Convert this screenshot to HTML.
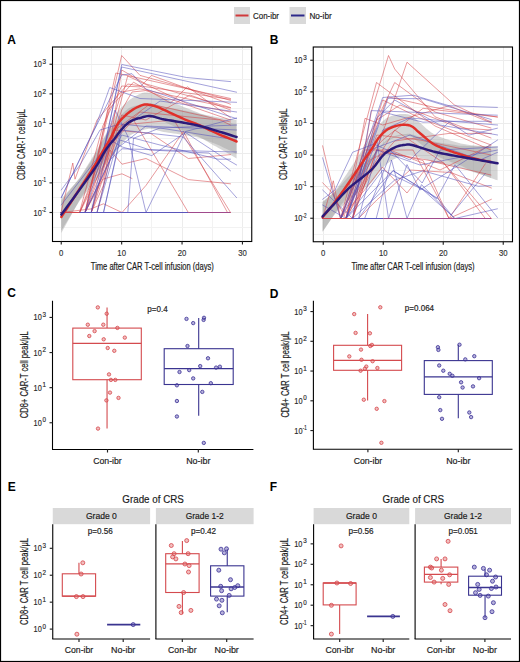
<!DOCTYPE html>
<html><head><meta charset="utf-8"><style>
html,body{margin:0;padding:0;background:#fff;overflow:hidden;width:520px;height:662px;}
svg{display:block;font-family:"Liberation Sans", sans-serif;}
</style></head><body>
<svg width="520" height="662" viewBox="0 0 520 662">
<rect width="520" height="662" fill="#fff"/>
<rect x="0.50" y="0.50" width="519.00" height="661.00" fill="none" stroke="#000" stroke-width="1.2" />
<rect x="234.00" y="7.00" width="16.00" height="17.00" fill="#d9d9d9" stroke="none" stroke-width="1" />
<line x1="235.50" y1="15.50" x2="248.50" y2="15.50" stroke="#d0393b" stroke-width="2.0" />
<text x="253.00" y="18.60" font-size="9.2" text-anchor="start" font-weight="normal" fill="#222" stroke="#222" stroke-width="0.18" textLength="26.00" lengthAdjust="spacingAndGlyphs" >Con-ibr</text>
<rect x="289.50" y="7.00" width="16.50" height="17.00" fill="#d9d9d9" stroke="none" stroke-width="1" />
<line x1="291.00" y1="15.50" x2="304.50" y2="15.50" stroke="#2e2a8a" stroke-width="2.0" />
<text x="309.40" y="18.60" font-size="9.2" text-anchor="start" font-weight="normal" fill="#222" stroke="#222" stroke-width="0.18" textLength="22.30" lengthAdjust="spacingAndGlyphs" >No-ibr</text>
<text x="7.20" y="43.80" font-size="12" text-anchor="start" font-weight="bold" fill="#000" >A</text>
<text x="269.70" y="43.80" font-size="12" text-anchor="start" font-weight="bold" fill="#000" >B</text>
<text x="7.20" y="297.30" font-size="12" text-anchor="start" font-weight="bold" fill="#000" >C</text>
<text x="269.70" y="297.60" font-size="12" text-anchor="start" font-weight="bold" fill="#000" >D</text>
<text x="7.70" y="490.70" font-size="12" text-anchor="start" font-weight="bold" fill="#000" >E</text>
<text x="269.70" y="490.70" font-size="12" text-anchor="start" font-weight="bold" fill="#000" >F</text>
<rect x="52.50" y="47.00" width="199.25" height="194.50" fill="#fff" stroke="none" stroke-width="1" />
<line x1="61.50" y1="47.00" x2="61.50" y2="241.50" stroke="#ececec" stroke-width="1.0" />
<line x1="91.50" y1="47.00" x2="91.50" y2="241.50" stroke="#f2f2f2" stroke-width="1.0" />
<line x1="121.50" y1="47.00" x2="121.50" y2="241.50" stroke="#ececec" stroke-width="1.0" />
<line x1="151.50" y1="47.00" x2="151.50" y2="241.50" stroke="#f2f2f2" stroke-width="1.0" />
<line x1="182.50" y1="47.00" x2="182.50" y2="241.50" stroke="#ececec" stroke-width="1.0" />
<line x1="212.50" y1="47.00" x2="212.50" y2="241.50" stroke="#f2f2f2" stroke-width="1.0" />
<line x1="242.50" y1="47.00" x2="242.50" y2="241.50" stroke="#ececec" stroke-width="1.0" />
<line x1="52.50" y1="227.50" x2="251.75" y2="227.50" stroke="#f2f2f2" stroke-width="1.0" />
<line x1="52.50" y1="212.50" x2="251.75" y2="212.50" stroke="#ececec" stroke-width="1.0" />
<line x1="52.50" y1="197.50" x2="251.75" y2="197.50" stroke="#f2f2f2" stroke-width="1.0" />
<line x1="52.50" y1="182.50" x2="251.75" y2="182.50" stroke="#ececec" stroke-width="1.0" />
<line x1="52.50" y1="168.50" x2="251.75" y2="168.50" stroke="#f2f2f2" stroke-width="1.0" />
<line x1="52.50" y1="153.50" x2="251.75" y2="153.50" stroke="#ececec" stroke-width="1.0" />
<line x1="52.50" y1="138.50" x2="251.75" y2="138.50" stroke="#f2f2f2" stroke-width="1.0" />
<line x1="52.50" y1="123.50" x2="251.75" y2="123.50" stroke="#ececec" stroke-width="1.0" />
<line x1="52.50" y1="108.50" x2="251.75" y2="108.50" stroke="#f2f2f2" stroke-width="1.0" />
<line x1="52.50" y1="93.50" x2="251.75" y2="93.50" stroke="#ececec" stroke-width="1.0" />
<line x1="52.50" y1="79.50" x2="251.75" y2="79.50" stroke="#f2f2f2" stroke-width="1.0" />
<line x1="52.50" y1="64.50" x2="251.75" y2="64.50" stroke="#ececec" stroke-width="1.0" />
<line x1="52.50" y1="49.50" x2="251.75" y2="49.50" stroke="#f2f2f2" stroke-width="1.0" />
<rect x="313.25" y="47.00" width="199.25" height="194.75" fill="#fff" stroke="none" stroke-width="1" />
<line x1="323.50" y1="47.00" x2="323.50" y2="241.75" stroke="#ececec" stroke-width="1.0" />
<line x1="353.50" y1="47.00" x2="353.50" y2="241.75" stroke="#f2f2f2" stroke-width="1.0" />
<line x1="383.50" y1="47.00" x2="383.50" y2="241.75" stroke="#ececec" stroke-width="1.0" />
<line x1="413.50" y1="47.00" x2="413.50" y2="241.75" stroke="#f2f2f2" stroke-width="1.0" />
<line x1="443.50" y1="47.00" x2="443.50" y2="241.75" stroke="#ececec" stroke-width="1.0" />
<line x1="473.50" y1="47.00" x2="473.50" y2="241.75" stroke="#f2f2f2" stroke-width="1.0" />
<line x1="503.50" y1="47.00" x2="503.50" y2="241.75" stroke="#ececec" stroke-width="1.0" />
<line x1="313.25" y1="234.50" x2="512.50" y2="234.50" stroke="#f2f2f2" stroke-width="1.0" />
<line x1="313.25" y1="218.50" x2="512.50" y2="218.50" stroke="#ececec" stroke-width="1.0" />
<line x1="313.25" y1="202.50" x2="512.50" y2="202.50" stroke="#f2f2f2" stroke-width="1.0" />
<line x1="313.25" y1="186.50" x2="512.50" y2="186.50" stroke="#ececec" stroke-width="1.0" />
<line x1="313.25" y1="170.50" x2="512.50" y2="170.50" stroke="#f2f2f2" stroke-width="1.0" />
<line x1="313.25" y1="155.50" x2="512.50" y2="155.50" stroke="#ececec" stroke-width="1.0" />
<line x1="313.25" y1="139.50" x2="512.50" y2="139.50" stroke="#f2f2f2" stroke-width="1.0" />
<line x1="313.25" y1="123.50" x2="512.50" y2="123.50" stroke="#ececec" stroke-width="1.0" />
<line x1="313.25" y1="107.50" x2="512.50" y2="107.50" stroke="#f2f2f2" stroke-width="1.0" />
<line x1="313.25" y1="91.50" x2="512.50" y2="91.50" stroke="#ececec" stroke-width="1.0" />
<line x1="313.25" y1="76.50" x2="512.50" y2="76.50" stroke="#f2f2f2" stroke-width="1.0" />
<line x1="313.25" y1="60.50" x2="512.50" y2="60.50" stroke="#ececec" stroke-width="1.0" />
<clipPath id="clipA"><rect x="52.5" y="47" width="199.25" height="194.5"/></clipPath>
<g clip-path="url(#clipA)">
<polygon points="61.30,201.03 62.33,199.73 63.66,198.05 65.24,196.06 67.01,193.81 68.93,191.39 70.94,188.85 72.98,186.25 75.00,183.67 77.11,180.97 79.41,178.04 81.83,174.38 84.30,170.45 86.74,166.54 89.09,162.77 91.26,159.23 93.20,156.04 94.90,153.18 96.44,150.53 97.84,148.07 99.12,145.77 100.33,143.61 101.47,141.59 102.59,139.63 103.70,137.70 104.78,135.86 105.79,134.15 106.75,132.55 107.66,131.02 108.53,129.53 109.39,128.05 110.24,126.55 111.10,125.00 111.94,123.38 112.75,121.72 113.53,120.05 114.30,118.38 115.07,116.75 115.85,115.17 116.66,113.68 117.50,112.30 118.38,111.03 119.28,109.84 120.20,108.73 121.14,107.68 122.08,106.68 123.03,105.72 123.97,104.80 124.90,103.90 125.82,103.03 126.74,102.20 127.66,101.42 128.58,100.68 129.50,99.96 130.43,99.28 131.36,98.63 132.30,98.00 133.26,97.39 134.24,96.81 135.23,96.25 136.23,95.72 137.21,95.23 138.17,94.78 139.11,94.37 140.00,94.00 140.82,93.67 141.55,93.36 142.23,93.09 142.91,92.86 143.60,92.67 144.36,92.55 145.22,92.49 146.20,92.50 147.31,92.58 148.52,92.72 149.80,92.92 151.15,93.18 152.56,93.50 154.01,93.88 155.49,94.31 157.00,94.80 158.55,95.37 160.17,96.04 161.83,96.77 163.54,97.56 165.26,98.37 166.99,99.20 168.71,100.02 170.40,100.80 172.06,101.56 173.68,102.33 175.30,103.10 176.93,103.88 178.57,104.65 180.25,105.43 181.99,106.21 183.80,107.00 185.69,107.78 187.66,108.56 189.68,109.33 191.74,110.11 193.82,110.90 195.90,111.71 197.97,112.54 200.00,113.40 201.98,114.09 203.91,114.80 205.81,115.54 207.73,116.30 209.67,117.06 211.68,117.84 213.78,118.62 216.00,119.40 218.50,120.23 221.31,121.02 224.29,121.71 227.30,122.40 230.18,123.04 232.79,123.63 234.98,124.11 236.60,124.50 236.60,158.50 234.98,157.56 232.79,156.28 230.18,154.75 227.30,153.05 224.29,151.28 221.31,149.50 218.50,147.93 216.00,146.60 213.78,145.38 211.68,144.18 209.67,143.00 207.73,141.84 205.81,140.70 203.91,139.59 201.98,138.48 200.00,137.40 197.97,136.54 195.90,135.71 193.82,134.90 191.74,134.11 189.68,133.33 187.66,132.56 185.69,131.78 183.80,131.00 181.99,130.21 180.25,129.43 178.57,128.65 176.93,127.88 175.30,127.10 173.68,126.33 172.06,125.56 170.40,124.80 168.71,124.02 166.99,123.20 165.26,122.37 163.54,121.56 161.83,120.77 160.17,120.04 158.55,119.37 157.00,118.80 155.49,118.31 154.01,117.88 152.56,117.50 151.15,117.18 149.80,116.92 148.52,116.72 147.31,116.58 146.20,116.50 145.22,116.49 144.36,116.55 143.60,116.67 142.91,116.86 142.23,117.09 141.55,117.36 140.82,117.67 140.00,118.00 139.11,118.37 138.17,118.78 137.21,119.23 136.23,119.72 135.23,120.25 134.24,120.81 133.26,121.39 132.30,122.00 131.36,122.63 130.43,123.28 129.50,123.96 128.58,124.68 127.66,125.42 126.74,126.20 125.82,127.03 124.90,127.90 123.97,128.80 123.03,129.72 122.08,130.68 121.14,131.68 120.20,132.73 119.28,133.84 118.38,135.03 117.50,136.30 116.66,137.68 115.85,139.17 115.07,140.75 114.30,142.38 113.53,144.05 112.75,145.72 111.94,147.38 111.10,149.00 110.24,150.55 109.39,152.05 108.53,153.53 107.66,155.02 106.75,156.55 105.79,158.15 104.78,159.86 103.70,161.70 102.59,163.63 101.47,165.59 100.33,167.61 99.12,169.68 97.84,171.85 96.44,174.17 94.90,176.67 93.20,179.36 91.26,182.36 89.09,185.68 86.74,189.22 84.30,192.88 81.83,196.56 79.41,200.35 77.11,204.51 75.00,208.33 72.98,211.99 70.94,215.67 68.93,219.28 67.01,222.72 65.24,225.91 63.66,228.74 62.33,231.13 61.30,232.97" fill="rgba(153,153,153,0.4)" stroke="none"/>
<polygon points="61.30,198.63 62.31,197.53 63.61,196.13 65.14,194.46 66.88,192.58 68.78,190.52 70.79,188.32 72.88,186.02 75.00,183.67 77.29,181.13 79.84,178.32 82.56,174.26 85.34,170.01 88.11,165.77 90.75,161.67 93.18,157.83 95.30,154.41 97.10,151.34 98.68,148.50 100.08,145.87 101.34,143.53 102.51,141.34 103.63,139.26 104.75,137.29 105.90,135.41 107.07,133.64 108.20,132.05 109.30,130.59 110.36,129.24 111.39,127.96 112.39,126.73 113.36,125.51 114.30,124.28 115.19,123.07 116.02,121.90 116.81,120.77 117.57,119.67 118.32,118.60 119.08,117.55 119.87,116.51 120.70,115.57 121.58,114.64 122.48,113.71 123.41,112.78 124.35,111.87 125.29,111.00 126.22,110.19 127.12,109.45 128.00,108.80 128.85,108.25 129.68,107.79 130.50,107.40 131.31,107.06 132.10,106.77 132.88,106.52 133.64,106.28 134.40,106.04 135.11,105.83 135.75,105.66 136.36,105.52 136.96,105.41 137.60,105.31 138.30,105.22 139.09,105.12 140.00,105.00 141.03,104.75 142.15,104.44 143.35,104.10 144.61,103.77 145.94,103.48 147.32,103.26 148.74,103.14 150.20,103.17 151.68,103.35 153.17,103.67 154.69,104.09 156.27,104.58 157.94,105.12 159.70,105.67 161.58,106.21 163.60,106.69 165.83,107.15 168.27,107.62 170.85,108.09 173.52,108.56 176.22,109.03 178.87,109.50 181.42,109.97 183.80,110.43 185.99,110.87 188.04,111.27 190.00,111.67 191.91,112.07 193.82,112.48 195.78,112.93 197.82,113.43 200.00,114.00 202.34,114.38 204.81,114.81 207.37,115.28 209.98,115.78 212.58,116.30 215.15,116.82 217.64,117.32 220.00,117.80 222.35,118.09 224.78,118.40 227.20,118.71 229.55,119.03 231.74,119.32 233.70,119.59 235.34,119.81 236.60,120.00 236.60,154.00 235.34,153.39 233.70,152.57 231.74,151.59 229.55,150.50 227.20,149.33 224.78,148.13 222.35,146.94 220.00,145.80 217.64,144.85 215.15,143.85 212.58,142.82 209.98,141.78 207.37,140.76 204.81,139.77 202.34,138.84 200.00,138.00 197.82,137.50 195.78,137.07 193.82,136.69 191.91,136.33 190.00,136.00 188.04,135.67 185.99,135.33 183.80,134.97 181.42,134.59 178.87,134.21 176.22,133.82 173.52,133.44 170.85,133.06 168.27,132.67 165.83,132.29 163.60,131.91 161.58,131.49 159.70,131.02 157.94,130.52 156.27,130.04 154.69,129.60 153.17,129.23 151.68,128.96 150.20,128.83 148.74,128.85 147.32,129.01 145.94,129.28 144.61,129.62 143.35,129.99 142.15,130.37 141.03,130.72 140.00,131.00 139.09,131.30 138.30,131.56 137.60,131.79 136.96,132.02 136.36,132.25 135.75,132.51 135.11,132.81 134.40,133.16 133.64,133.55 132.88,133.94 132.10,134.35 131.31,134.80 130.50,135.30 129.68,135.85 128.85,136.48 128.00,137.20 127.12,138.02 126.22,138.94 125.29,139.94 124.35,141.00 123.41,142.09 122.48,143.21 121.58,144.33 120.70,145.43 119.87,146.49 119.08,147.46 118.32,148.43 117.57,149.43 116.81,150.45 116.02,151.50 115.19,152.58 114.30,153.72 113.36,154.85 112.39,155.97 111.39,157.10 110.36,158.27 109.30,159.52 108.20,160.87 107.07,162.35 105.90,163.99 104.75,165.77 103.63,167.63 102.51,169.59 101.34,171.67 100.08,173.88 98.68,176.11 97.10,178.47 95.30,180.99 93.18,183.79 90.75,186.89 88.11,190.20 85.34,193.61 82.56,197.03 79.84,200.41 77.29,204.58 75.00,208.33 72.88,211.81 70.79,215.22 68.78,218.49 66.88,221.56 65.14,224.36 63.61,226.84 62.31,228.94 61.30,230.57" fill="rgba(153,153,153,0.4)" stroke="none"/>
<polyline points="61.25,212.50 85.40,212.50 121.70,55.50 140.00,75.40 230.50,100.40" fill="none" stroke="rgba(210,60,65,0.55)" stroke-width="0.95" stroke-linejoin="round" stroke-linecap="round" stroke-linecap="butt"/>
<polyline points="61.25,212.50 79.50,212.50 102.80,126.00 121.70,86.00 140.00,86.90 151.50,75.40 230.50,104.20" fill="none" stroke="rgba(210,60,65,0.55)" stroke-width="0.95" stroke-linejoin="round" stroke-linecap="round" stroke-linecap="butt"/>
<polyline points="61.25,212.50 91.20,212.50 103.50,185.00 121.70,70.00 146.00,84.00 230.50,107.50" fill="none" stroke="rgba(210,60,65,0.55)" stroke-width="0.95" stroke-linejoin="round" stroke-linecap="round" stroke-linecap="butt"/>
<polyline points="61.25,212.50 91.20,212.50 127.70,76.00 188.00,104.00 230.50,112.00" fill="none" stroke="rgba(210,60,65,0.55)" stroke-width="0.95" stroke-linejoin="round" stroke-linecap="round" stroke-linecap="butt"/>
<polyline points="61.25,212.50 85.00,212.50 108.00,110.00 133.50,82.20 170.50,103.00 187.40,86.80 230.50,117.70" fill="none" stroke="rgba(210,60,65,0.55)" stroke-width="0.95" stroke-linejoin="round" stroke-linecap="round" stroke-linecap="butt"/>
<polyline points="61.25,212.50 79.70,212.50 103.50,150.00 121.70,92.00 140.00,88.80 230.50,108.00" fill="none" stroke="rgba(210,60,65,0.55)" stroke-width="0.95" stroke-linejoin="round" stroke-linecap="round" stroke-linecap="butt"/>
<polyline points="61.25,212.50 85.00,212.50 103.50,175.00 121.70,115.00 146.00,120.00 190.00,95.00 230.50,110.00" fill="none" stroke="rgba(210,60,65,0.55)" stroke-width="0.95" stroke-linejoin="round" stroke-linecap="round" stroke-linecap="butt"/>
<polyline points="61.25,211.50 72.80,163.00 75.00,179.20 97.00,120.00 127.70,84.00 230.50,99.40" fill="none" stroke="rgba(210,60,65,0.55)" stroke-width="0.95" stroke-linejoin="round" stroke-linecap="round" stroke-linecap="butt"/>
<polyline points="61.25,212.50 85.00,212.50 115.80,73.00 140.00,78.30 230.50,98.50" fill="none" stroke="rgba(210,60,65,0.55)" stroke-width="0.95" stroke-linejoin="round" stroke-linecap="round" stroke-linecap="butt"/>
<polyline points="61.25,212.50 79.70,212.50 103.50,165.00 121.70,110.00 132.00,92.00 145.80,90.60 230.50,120.00" fill="none" stroke="rgba(210,60,65,0.55)" stroke-width="0.95" stroke-linejoin="round" stroke-linecap="round" stroke-linecap="butt"/>
<polyline points="61.25,212.50 85.00,212.50 110.00,150.00 122.00,164.20 146.00,158.50 188.30,179.60 230.50,183.80" fill="none" stroke="rgba(210,60,65,0.55)" stroke-width="0.95" stroke-linejoin="round" stroke-linecap="round" stroke-linecap="butt"/>
<polyline points="61.25,212.50 90.50,209.00 103.50,203.80 122.00,212.50 146.00,185.40 183.50,131.50 227.50,212.50" fill="none" stroke="rgba(210,60,65,0.55)" stroke-width="0.95" stroke-linejoin="round" stroke-linecap="round" stroke-linecap="butt"/>
<polyline points="61.25,212.50 85.00,212.50 102.80,179.20 122.00,173.80 132.00,178.50" fill="none" stroke="rgba(210,60,65,0.55)" stroke-width="0.95" stroke-linejoin="round" stroke-linecap="round" stroke-linecap="butt"/>
<polyline points="61.25,212.50 97.00,212.50 115.00,140.00 133.50,120.00 188.30,212.50 230.50,212.50" fill="none" stroke="rgba(210,60,65,0.55)" stroke-width="0.95" stroke-linejoin="round" stroke-linecap="round" stroke-linecap="butt"/>
<polyline points="61.25,212.50 79.70,212.50 115.00,130.00 150.80,133.50 188.30,158.50 230.50,154.60" fill="none" stroke="rgba(210,60,65,0.55)" stroke-width="0.95" stroke-linejoin="round" stroke-linecap="round" stroke-linecap="butt"/>
<polyline points="61.25,212.50 91.20,212.50 121.70,125.00 173.90,120.00 230.50,212.50" fill="none" stroke="rgba(210,60,65,0.55)" stroke-width="0.95" stroke-linejoin="round" stroke-linecap="round" stroke-linecap="butt"/>
<polyline points="61.25,212.50 85.00,212.50 110.00,140.00 140.00,112.00 220.00,120.00 230.50,125.00" fill="none" stroke="rgba(210,60,65,0.55)" stroke-width="0.95" stroke-linejoin="round" stroke-linecap="round" stroke-linecap="butt"/>
<polyline points="61.25,212.50 91.20,212.50 115.00,130.00 150.00,104.00 230.50,122.00" fill="none" stroke="rgba(210,60,65,0.55)" stroke-width="0.95" stroke-linejoin="round" stroke-linecap="round" stroke-linecap="butt"/>
<polyline points="61.25,212.50 91.20,212.50 121.70,64.50 186.60,77.50 230.50,81.60" fill="none" stroke="rgba(80,75,185,0.55)" stroke-width="0.95" stroke-linejoin="round" stroke-linecap="round" stroke-linecap="butt"/>
<polyline points="61.25,205.00 103.50,150.00 121.70,67.00 236.60,92.20" fill="none" stroke="rgba(80,75,185,0.55)" stroke-width="0.95" stroke-linejoin="round" stroke-linecap="round" stroke-linecap="butt"/>
<polyline points="61.25,197.70 95.80,126.00 109.70,87.50 140.00,98.50 236.60,102.30" fill="none" stroke="rgba(80,75,185,0.55)" stroke-width="0.95" stroke-linejoin="round" stroke-linecap="round" stroke-linecap="butt"/>
<polyline points="61.25,197.70 84.30,150.00 121.70,75.00 132.00,73.70 145.80,89.00 236.60,118.70" fill="none" stroke="rgba(80,75,185,0.55)" stroke-width="0.95" stroke-linejoin="round" stroke-linecap="round" stroke-linecap="butt"/>
<polyline points="61.25,212.50 91.20,212.50 110.00,140.00 122.00,146.90 151.80,155.60 185.50,132.50 222.00,156.50 236.60,165.00" fill="none" stroke="rgba(80,75,185,0.55)" stroke-width="0.95" stroke-linejoin="round" stroke-linecap="round" stroke-linecap="butt"/>
<polyline points="61.25,212.50 85.00,212.50 115.00,110.00 127.80,136.30 146.00,212.50 185.50,131.50 236.60,118.00" fill="none" stroke="rgba(80,75,185,0.55)" stroke-width="0.95" stroke-linejoin="round" stroke-linecap="round" stroke-linecap="butt"/>
<polyline points="61.25,212.50 103.50,212.50 127.80,212.50 133.50,138.30 160.00,128.00 236.60,125.00" fill="none" stroke="rgba(80,75,185,0.55)" stroke-width="0.95" stroke-linejoin="round" stroke-linecap="round" stroke-linecap="butt"/>
<polyline points="61.25,212.50 97.00,212.50 110.00,160.00 122.00,148.80 222.00,151.70 236.60,152.00" fill="none" stroke="rgba(80,75,185,0.55)" stroke-width="0.95" stroke-linejoin="round" stroke-linecap="round" stroke-linecap="butt"/>
<polyline points="61.25,212.50 91.20,212.50 103.50,212.50 121.70,130.00 183.00,137.00 236.60,197.70" fill="none" stroke="rgba(80,75,185,0.55)" stroke-width="0.95" stroke-linejoin="round" stroke-linecap="round" stroke-linecap="butt"/>
<polyline points="61.25,212.50 79.70,212.50 103.50,212.50 120.00,140.00 150.00,150.00 209.00,153.00 230.50,170.80" fill="none" stroke="rgba(80,75,185,0.55)" stroke-width="0.95" stroke-linejoin="round" stroke-linecap="round" stroke-linecap="butt"/>
<polyline points="61.25,212.50 85.00,212.50 121.70,135.00 160.00,145.00 218.00,159.20 230.50,159.20" fill="none" stroke="rgba(80,75,185,0.55)" stroke-width="0.95" stroke-linejoin="round" stroke-linecap="round" stroke-linecap="butt"/>
<polyline points="61.25,190.00 80.00,165.00 100.00,130.00 120.00,124.00 160.00,128.00 236.60,140.00" fill="none" stroke="rgba(80,75,185,0.55)" stroke-width="0.95" stroke-linejoin="round" stroke-linecap="round" stroke-linecap="butt"/>
<polyline points="61.25,212.50 188.20,212.50" fill="none" stroke="rgba(80,75,185,0.55)" stroke-width="0.95" stroke-linejoin="round" stroke-linecap="round" stroke-linecap="butt"/>
<polyline points="61.25,212.50 97.00,212.50 121.70,128.00 160.00,101.00 236.60,112.00" fill="none" stroke="rgba(80,75,185,0.55)" stroke-width="0.95" stroke-linejoin="round" stroke-linecap="round" stroke-linecap="butt"/>
<polyline points="61.25,212.50 85.00,212.50 115.00,150.00 146.00,126.00 236.60,130.00" fill="none" stroke="rgba(80,75,185,0.55)" stroke-width="0.95" stroke-linejoin="round" stroke-linecap="round" stroke-linecap="butt"/>
<line x1="61.25" y1="212.50" x2="79.70" y2="212.50" stroke="#d4464b" stroke-width="1.0" />
<line x1="79.70" y1="212.50" x2="188.20" y2="212.50" stroke="#5a55bb" stroke-width="1.0" />
<line x1="188.20" y1="212.50" x2="230.50" y2="212.50" stroke="#a04a8c" stroke-width="1.0" />
<polyline points="61.30,217.00 62.33,215.43 63.66,213.40 65.24,210.98 67.01,208.27 68.93,205.33 70.94,202.26 72.98,199.12 75.00,196.00 77.11,192.74 79.41,189.20 81.83,185.47 84.30,181.66 86.74,177.88 89.09,174.22 91.26,170.79 93.20,167.70 94.90,164.92 96.44,162.35 97.84,159.96 99.12,157.72 100.33,155.61 101.47,153.59 102.59,151.63 103.70,149.70 104.78,147.86 105.79,146.15 106.75,144.55 107.66,143.02 108.53,141.53 109.39,140.05 110.24,138.55 111.10,137.00 111.94,135.38 112.75,133.72 113.53,132.05 114.30,130.38 115.07,128.75 115.85,127.17 116.66,125.68 117.50,124.30 118.38,123.03 119.28,121.84 120.20,120.73 121.14,119.68 122.08,118.68 123.03,117.72 123.97,116.80 124.90,115.90 125.82,115.03 126.74,114.20 127.66,113.42 128.58,112.68 129.50,111.96 130.43,111.28 131.36,110.63 132.30,110.00 133.26,109.39 134.24,108.81 135.23,108.25 136.23,107.72 137.21,107.23 138.17,106.78 139.11,106.37 140.00,106.00 140.82,105.67 141.55,105.36 142.23,105.09 142.91,104.86 143.60,104.67 144.36,104.55 145.22,104.49 146.20,104.50 147.31,104.58 148.52,104.72 149.80,104.92 151.15,105.18 152.56,105.50 154.01,105.88 155.49,106.31 157.00,106.80 158.55,107.37 160.17,108.04 161.83,108.77 163.54,109.56 165.26,110.37 166.99,111.20 168.71,112.02 170.40,112.80 172.06,113.56 173.68,114.33 175.30,115.10 176.93,115.88 178.57,116.65 180.25,117.43 181.99,118.21 183.80,119.00 185.69,119.78 187.66,120.56 189.68,121.33 191.74,122.11 193.82,122.90 195.90,123.71 197.97,124.54 200.00,125.40 201.98,126.29 203.91,127.19 205.81,128.12 207.73,129.07 209.67,130.03 211.68,131.01 213.78,132.00 216.00,133.00 218.50,134.08 221.31,135.26 224.29,136.50 227.30,137.72 230.18,138.90 232.79,139.95 234.98,140.84 236.60,141.50" fill="none" stroke="#e0302a" stroke-width="2.45" stroke-linejoin="round" stroke-linecap="round" stroke-linecap="butt"/>
<polyline points="61.30,214.60 62.31,213.23 63.61,211.49 65.14,209.41 66.88,207.07 68.78,204.50 70.79,201.77 72.88,198.92 75.00,196.00 77.29,192.86 79.84,189.37 82.56,185.65 85.34,181.81 88.11,177.98 90.75,174.28 93.18,170.81 95.30,167.70 97.10,164.91 98.68,162.30 100.08,159.87 101.34,157.60 102.51,155.46 103.63,153.45 104.75,151.53 105.90,149.70 107.07,148.00 108.20,146.46 109.30,145.06 110.36,143.76 111.39,142.53 112.39,141.35 113.36,140.18 114.30,139.00 115.19,137.83 116.02,136.70 116.81,135.61 117.57,134.55 118.32,133.52 119.08,132.50 119.87,131.50 120.70,130.50 121.58,129.49 122.48,128.46 123.41,127.43 124.35,126.43 125.29,125.47 126.22,124.56 127.12,123.73 128.00,123.00 128.85,122.37 129.68,121.82 130.50,121.35 131.31,120.93 132.10,120.56 132.88,120.23 133.64,119.91 134.40,119.60 135.11,119.32 135.75,119.08 136.36,118.89 136.96,118.71 137.60,118.55 138.30,118.39 139.09,118.21 140.00,118.00 141.03,117.73 142.15,117.40 143.35,117.05 144.61,116.69 145.94,116.38 147.32,116.14 148.74,116.00 150.20,116.00 151.68,116.16 153.17,116.45 154.69,116.84 156.27,117.31 157.94,117.82 159.70,118.34 161.58,118.85 163.60,119.30 165.83,119.72 168.27,120.15 170.85,120.57 173.52,121.00 176.22,121.43 178.87,121.85 181.42,122.28 183.80,122.70 185.99,123.10 188.04,123.47 190.00,123.83 191.91,124.20 193.82,124.58 195.78,125.00 197.82,125.47 200.00,126.00 202.34,126.61 204.81,127.29 207.37,128.02 209.98,128.78 212.58,129.56 215.15,130.33 217.64,131.09 220.00,131.80 222.35,132.51 224.78,133.26 227.20,134.02 229.55,134.76 231.74,135.46 233.70,136.08 235.34,136.60 236.60,137.00" fill="none" stroke="#2b1a7a" stroke-width="2.45" stroke-linejoin="round" stroke-linecap="round" stroke-linecap="butt"/>
</g>
<clipPath id="clipB"><rect x="313.25" y="47" width="199.25" height="194.75"/></clipPath>
<g clip-path="url(#clipB)">
<polygon points="322.60,202.38 323.55,201.53 324.80,200.42 326.29,199.10 327.95,197.62 329.72,196.02 331.52,194.35 333.31,192.67 335.00,191.00 336.64,188.71 338.32,186.33 340.01,183.88 341.73,181.38 343.45,178.83 345.17,176.26 346.89,173.68 348.60,171.09 350.33,168.45 352.10,165.73 353.88,162.96 355.66,160.18 357.40,157.44 359.09,154.80 360.70,152.30 362.20,149.99 363.60,147.88 364.93,145.91 366.18,144.07 367.37,142.34 368.52,140.68 369.61,139.07 370.67,137.57 371.70,136.11 372.67,134.67 373.56,133.26 374.39,131.88 375.18,130.55 375.97,129.26 376.76,128.02 377.60,126.82 378.50,125.67 379.45,124.56 380.42,123.48 381.42,122.44 382.43,121.45 383.47,120.52 384.53,119.65 385.60,118.84 386.70,118.11 387.83,117.46 389.00,116.89 390.20,116.38 391.41,115.94 392.63,115.55 393.84,115.21 395.04,114.91 396.20,114.65 397.35,114.42 398.49,114.25 399.63,114.12 400.76,114.01 401.86,113.94 402.94,113.91 403.99,113.92 405.00,113.97 405.96,114.05 406.87,114.16 407.75,114.30 408.60,114.49 409.44,114.74 410.28,115.05 411.13,115.43 412.00,115.90 412.85,116.44 413.63,117.03 414.40,117.69 415.17,118.41 416.01,119.21 416.93,120.10 417.98,121.07 419.20,122.14 420.61,123.37 422.19,124.79 423.89,126.34 425.69,127.95 427.53,129.56 429.40,131.12 431.23,132.47 433.00,133.60 434.72,134.56 436.45,135.40 438.17,136.15 439.89,136.83 441.62,137.45 443.34,138.05 445.07,138.64 446.80,139.24 448.54,139.84 450.31,140.42 452.08,140.97 453.84,141.50 455.60,142.01 457.34,142.51 459.04,143.00 460.70,143.40 462.28,143.68 463.75,143.95 465.18,144.22 466.59,144.47 468.04,144.72 469.56,144.94 471.20,145.16 473.00,145.35 475.10,145.53 477.52,145.69 480.12,145.84 482.77,145.92 485.32,145.98 487.63,146.04 489.57,146.08 491.00,146.12 491.00,177.88 489.57,177.35 487.63,176.64 485.32,175.79 482.77,174.86 480.12,173.88 477.52,172.95 475.10,172.06 473.00,171.25 471.20,170.52 469.56,169.81 468.04,169.13 466.59,168.45 465.18,167.77 463.75,167.08 462.28,166.36 460.70,165.60 459.04,164.93 457.34,164.33 455.60,163.72 453.84,163.09 452.08,162.44 450.31,161.77 448.54,161.08 446.80,160.36 445.07,159.64 443.34,158.94 441.62,158.23 439.89,157.49 438.17,156.69 436.45,155.83 434.72,154.87 433.00,153.80 431.23,152.55 429.40,151.16 427.53,149.73 425.69,148.24 423.89,146.75 422.19,145.31 420.61,144.00 419.20,142.86 417.98,141.87 416.93,140.97 416.01,140.15 415.17,139.40 414.40,138.73 413.63,138.12 412.85,137.58 412.00,137.10 411.13,136.69 410.28,136.36 409.44,136.11 408.60,135.92 407.75,135.79 406.87,135.70 405.96,135.65 405.00,135.63 403.99,135.65 402.94,135.71 401.86,135.81 400.76,135.96 399.63,136.17 398.49,136.45 397.35,136.78 396.20,137.15 395.04,137.57 393.84,138.03 392.63,138.53 391.41,139.09 390.20,139.69 389.00,140.36 387.83,141.09 386.70,141.89 385.60,142.76 384.53,143.71 383.47,144.72 382.43,145.80 381.42,146.92 380.42,148.09 379.45,149.30 378.50,150.53 377.60,151.80 376.76,153.11 375.97,154.47 375.18,155.86 374.39,157.30 373.56,158.78 372.67,160.31 371.70,161.89 370.67,163.48 369.61,165.03 368.52,166.53 367.37,168.08 366.18,169.69 364.93,171.40 363.60,173.24 362.20,175.21 360.70,177.37 359.09,179.71 357.40,182.18 355.66,184.75 353.88,187.35 352.10,189.94 350.33,192.49 348.60,194.91 346.89,197.26 345.17,199.62 343.45,201.96 341.73,204.27 340.01,206.55 338.32,208.77 336.64,210.93 335.00,213.00 333.31,215.71 331.52,218.49 329.72,221.27 327.95,223.96 326.29,226.46 324.80,228.70 323.55,230.58 322.60,232.02" fill="rgba(153,153,153,0.4)" stroke="none"/>
<polygon points="322.60,201.58 323.55,200.85 324.80,199.88 326.29,198.73 327.95,197.44 329.72,196.08 331.52,194.68 333.31,193.30 335.00,192.00 336.64,190.10 338.32,188.13 340.01,186.12 341.73,184.10 343.45,182.09 345.17,180.14 346.89,178.26 348.60,176.49 350.32,174.83 352.06,173.28 353.82,171.79 355.57,170.35 357.30,168.96 358.99,167.59 360.63,166.24 362.20,164.89 363.70,163.58 365.15,162.33 366.55,161.13 367.91,159.94 369.23,158.74 370.54,157.57 371.82,156.43 373.10,155.21 374.37,153.85 375.64,152.36 376.88,150.79 378.11,149.19 379.30,147.62 380.45,146.14 381.55,144.79 382.60,143.64 383.57,142.69 384.46,141.88 385.29,141.20 386.09,140.61 386.87,140.08 387.67,139.59 388.51,139.10 389.40,138.59 390.35,138.07 391.35,137.56 392.37,137.07 393.41,136.60 394.45,136.17 395.49,135.78 396.51,135.43 397.50,135.13 398.47,134.89 399.43,134.69 400.38,134.53 401.32,134.39 402.25,134.28 403.17,134.19 404.09,134.12 405.00,134.07 405.80,133.99 406.46,133.89 407.05,133.79 407.66,133.72 408.37,133.71 409.28,133.81 410.46,134.02 412.00,134.40 413.97,134.98 416.32,135.76 418.96,136.68 421.78,137.69 424.69,138.74 427.60,139.76 430.40,140.67 433.00,141.30 435.41,141.82 437.73,142.28 439.99,142.68 442.22,143.06 444.45,143.41 446.72,143.75 449.06,144.11 451.50,144.48 454.02,144.87 456.59,145.25 459.21,145.63 461.87,145.79 464.58,145.85 467.34,145.91 470.14,145.98 473.00,146.05 476.09,146.13 479.51,146.21 483.08,146.24 486.64,146.26 490.04,146.27 493.11,146.28 495.68,146.29 497.60,146.30 497.60,180.30 495.68,179.64 493.11,178.75 490.04,177.69 486.64,176.52 483.08,175.29 479.51,174.07 476.09,172.96 473.00,171.95 470.14,171.02 467.34,170.12 464.58,169.23 461.87,168.35 459.21,167.58 456.59,167.02 454.02,166.47 451.50,165.92 449.06,165.38 446.72,164.87 444.45,164.37 442.22,163.87 439.99,163.35 437.73,162.79 435.41,162.18 433.00,161.50 430.40,160.69 427.60,159.92 424.69,159.09 421.78,158.24 418.96,157.42 416.32,156.67 413.97,156.05 412.00,155.60 410.46,155.33 409.28,155.19 408.37,155.16 407.66,155.21 407.05,155.32 406.46,155.46 405.80,155.60 405.00,155.73 404.09,155.85 403.17,155.98 402.25,156.13 401.32,156.30 400.38,156.51 399.43,156.77 398.47,157.09 397.50,157.47 396.51,157.90 395.49,158.38 394.45,158.91 393.41,159.48 392.37,160.08 391.35,160.71 390.35,161.35 389.40,162.01 388.51,162.64 387.67,163.23 386.87,163.83 386.09,164.47 385.29,165.16 384.46,165.95 383.57,166.88 382.60,167.96 381.55,169.25 380.45,170.75 379.30,172.38 378.11,174.11 376.88,175.87 375.64,177.61 374.37,179.27 373.10,180.79 371.82,182.19 370.54,183.50 369.23,184.66 367.91,185.73 366.55,186.78 365.15,187.85 363.70,188.95 362.20,190.11 360.63,191.30 358.99,192.49 357.30,193.69 355.57,194.91 353.82,196.17 352.06,197.49 350.32,198.87 348.60,200.31 346.89,201.85 345.17,203.50 343.45,205.22 341.73,206.99 340.01,208.78 338.32,210.57 336.64,212.32 335.00,214.00 333.31,216.34 331.52,218.82 329.72,221.33 327.95,223.78 326.29,226.09 324.80,228.16 323.55,229.90 322.60,231.22" fill="rgba(153,153,153,0.4)" stroke="none"/>
<polyline points="322.60,218.50 346.00,218.50 364.20,146.00 394.70,82.50 435.00,112.00 491.00,128.00" fill="none" stroke="rgba(210,60,65,0.55)" stroke-width="0.95" stroke-linejoin="round" stroke-linecap="round" stroke-linecap="butt"/>
<polyline points="322.60,218.50 352.60,218.50 371.20,112.20 388.50,55.50 394.70,69.00 435.00,116.80 491.00,138.00" fill="none" stroke="rgba(210,60,65,0.55)" stroke-width="0.95" stroke-linejoin="round" stroke-linecap="round" stroke-linecap="butt"/>
<polyline points="322.60,218.50 340.60,218.50 359.60,146.00 376.50,82.50 435.00,126.00 491.00,150.00" fill="none" stroke="rgba(210,60,65,0.55)" stroke-width="0.95" stroke-linejoin="round" stroke-linecap="round" stroke-linecap="butt"/>
<polyline points="322.60,218.50 352.60,218.50 390.40,110.60 407.00,62.20 454.20,104.80 491.40,122.20" fill="none" stroke="rgba(210,60,65,0.55)" stroke-width="0.95" stroke-linejoin="round" stroke-linecap="round" stroke-linecap="butt"/>
<polyline points="322.60,218.50 346.00,218.50 365.00,118.30 382.70,125.00 449.00,105.70 491.40,123.00" fill="none" stroke="rgba(210,60,65,0.55)" stroke-width="0.95" stroke-linejoin="round" stroke-linecap="round" stroke-linecap="butt"/>
<polyline points="322.60,218.50 340.60,218.50 388.00,96.80 435.00,107.50 497.40,117.00" fill="none" stroke="rgba(210,60,65,0.55)" stroke-width="0.95" stroke-linejoin="round" stroke-linecap="round" stroke-linecap="butt"/>
<polyline points="322.60,145.80 335.00,197.40 340.60,218.50 364.60,160.00 382.70,140.00 423.00,108.30 497.40,117.00" fill="none" stroke="rgba(210,60,65,0.55)" stroke-width="0.95" stroke-linejoin="round" stroke-linecap="round" stroke-linecap="butt"/>
<polyline points="322.60,182.70 331.40,191.90 346.00,218.50 370.00,170.00 394.70,141.00 449.00,133.40 491.40,133.40" fill="none" stroke="rgba(210,60,65,0.55)" stroke-width="0.95" stroke-linejoin="round" stroke-linecap="round" stroke-linecap="butt"/>
<polyline points="322.60,218.50 333.30,180.80 340.60,218.50 364.60,150.00 413.00,150.00 449.00,218.50 491.40,199.30" fill="none" stroke="rgba(210,60,65,0.55)" stroke-width="0.95" stroke-linejoin="round" stroke-linecap="round" stroke-linecap="butt"/>
<polyline points="322.60,218.50 352.60,218.50 376.80,150.00 423.00,160.40 449.00,218.50 485.30,163.80" fill="none" stroke="rgba(210,60,65,0.55)" stroke-width="0.95" stroke-linejoin="round" stroke-linecap="round" stroke-linecap="butt"/>
<polyline points="322.60,218.50 340.60,218.50 364.60,190.00 382.30,167.00 407.00,193.00 431.50,161.40 491.00,175.00" fill="none" stroke="rgba(210,60,65,0.55)" stroke-width="0.95" stroke-linejoin="round" stroke-linecap="round" stroke-linecap="butt"/>
<polyline points="322.60,218.50 346.00,218.50 382.80,152.00 443.80,163.00 485.30,218.50" fill="none" stroke="rgba(210,60,65,0.55)" stroke-width="0.95" stroke-linejoin="round" stroke-linecap="round" stroke-linecap="butt"/>
<polyline points="322.60,218.50 340.60,218.50 394.70,130.00 443.80,163.00 491.40,218.50" fill="none" stroke="rgba(210,60,65,0.55)" stroke-width="0.95" stroke-linejoin="round" stroke-linecap="round" stroke-linecap="butt"/>
<polyline points="322.60,218.50 358.50,218.50 376.80,200.00 410.00,170.00 450.70,172.50 491.40,188.00" fill="none" stroke="rgba(210,60,65,0.55)" stroke-width="0.95" stroke-linejoin="round" stroke-linecap="round" stroke-linecap="butt"/>
<polyline points="322.60,218.50 346.00,218.50 376.80,135.00 420.00,140.00 491.00,155.00" fill="none" stroke="rgba(210,60,65,0.55)" stroke-width="0.95" stroke-linejoin="round" stroke-linecap="round" stroke-linecap="butt"/>
<polyline points="322.60,218.50 491.00,218.50" fill="none" stroke="rgba(210,60,65,0.55)" stroke-width="0.95" stroke-linejoin="round" stroke-linecap="round" stroke-linecap="butt"/>
<polyline points="322.60,218.50 352.60,218.50 370.00,160.00 390.00,150.00 440.00,170.00 491.00,145.00" fill="none" stroke="rgba(210,60,65,0.55)" stroke-width="0.95" stroke-linejoin="round" stroke-linecap="round" stroke-linecap="butt"/>
<polyline points="322.60,218.50 346.00,218.50 370.00,140.00 382.70,100.00 420.00,118.00 491.00,145.00" fill="none" stroke="rgba(210,60,65,0.55)" stroke-width="0.95" stroke-linejoin="round" stroke-linecap="round" stroke-linecap="butt"/>
<polyline points="322.60,218.50 352.60,218.50 376.80,120.00 400.00,105.00 460.00,128.00 491.00,130.00" fill="none" stroke="rgba(210,60,65,0.55)" stroke-width="0.95" stroke-linejoin="round" stroke-linecap="round" stroke-linecap="butt"/>
<polyline points="322.60,218.50 340.60,218.50 382.70,97.50 413.20,95.20 449.00,105.70 497.40,107.40" fill="none" stroke="rgba(80,75,185,0.55)" stroke-width="0.95" stroke-linejoin="round" stroke-linecap="round" stroke-linecap="butt"/>
<polyline points="322.60,218.50 346.00,218.50 388.00,98.30 423.00,98.80 491.40,119.60" fill="none" stroke="rgba(80,75,185,0.55)" stroke-width="0.95" stroke-linejoin="round" stroke-linecap="round" stroke-linecap="butt"/>
<polyline points="322.60,218.50 352.60,218.50 371.20,110.60 423.00,112.60 497.40,115.20" fill="none" stroke="rgba(80,75,185,0.55)" stroke-width="0.95" stroke-linejoin="round" stroke-linecap="round" stroke-linecap="butt"/>
<polyline points="322.60,157.80 340.60,218.50 364.60,160.00 382.70,112.00 423.00,122.20 449.00,121.30 491.40,121.30" fill="none" stroke="rgba(80,75,185,0.55)" stroke-width="0.95" stroke-linejoin="round" stroke-linecap="round" stroke-linecap="butt"/>
<polyline points="322.60,199.30 335.00,190.00 352.60,152.30 373.80,144.00 410.00,160.00 449.00,122.00 468.90,135.10 497.40,128.20" fill="none" stroke="rgba(80,75,185,0.55)" stroke-width="0.95" stroke-linejoin="round" stroke-linecap="round" stroke-linecap="butt"/>
<polyline points="322.60,218.50 346.00,218.50 370.00,150.00 410.00,135.00 480.00,160.00 497.60,152.30" fill="none" stroke="rgba(80,75,185,0.55)" stroke-width="0.95" stroke-linejoin="round" stroke-linecap="round" stroke-linecap="butt"/>
<polyline points="322.60,218.50 352.60,218.50 364.60,218.50 391.50,151.50 422.20,183.00 440.00,150.00 497.60,147.00" fill="none" stroke="rgba(80,75,185,0.55)" stroke-width="0.95" stroke-linejoin="round" stroke-linecap="round" stroke-linecap="butt"/>
<polyline points="322.60,218.50 346.00,218.50 376.80,140.00 388.50,218.50 407.00,164.60 420.00,190.00 497.60,140.00" fill="none" stroke="rgba(80,75,185,0.55)" stroke-width="0.95" stroke-linejoin="round" stroke-linecap="round" stroke-linecap="butt"/>
<polyline points="322.60,218.50 358.50,218.50 393.00,170.60 436.80,198.50 455.00,164.70 497.40,217.50" fill="none" stroke="rgba(80,75,185,0.55)" stroke-width="0.95" stroke-linejoin="round" stroke-linecap="round" stroke-linecap="butt"/>
<polyline points="322.60,218.50 340.60,218.50 376.80,150.00 420.00,165.00 497.60,150.00" fill="none" stroke="rgba(80,75,185,0.55)" stroke-width="0.95" stroke-linejoin="round" stroke-linecap="round" stroke-linecap="butt"/>
<polyline points="322.60,205.00 346.00,218.50 382.80,170.00 423.00,189.80 455.00,218.50 497.40,208.80" fill="none" stroke="rgba(80,75,185,0.55)" stroke-width="0.95" stroke-linejoin="round" stroke-linecap="round" stroke-linecap="butt"/>
<polyline points="322.60,218.50 352.60,218.50 394.70,180.00 423.00,170.80 478.40,186.30 491.40,185.50" fill="none" stroke="rgba(80,75,185,0.55)" stroke-width="0.95" stroke-linejoin="round" stroke-linecap="round" stroke-linecap="butt"/>
<polyline points="322.60,190.00 352.60,218.50 376.20,218.50 391.50,160.00 407.00,218.50 421.50,184.60 451.00,215.00 485.30,173.40" fill="none" stroke="rgba(80,75,185,0.55)" stroke-width="0.95" stroke-linejoin="round" stroke-linecap="round" stroke-linecap="butt"/>
<polyline points="322.60,218.50 346.00,218.50 393.00,170.60 437.60,198.30 454.50,218.50" fill="none" stroke="rgba(80,75,185,0.55)" stroke-width="0.95" stroke-linejoin="round" stroke-linecap="round" stroke-linecap="butt"/>
<polyline points="322.60,218.50 346.00,218.50 376.80,118.00 394.70,100.00 440.00,125.00 497.60,135.00" fill="none" stroke="rgba(80,75,185,0.55)" stroke-width="0.95" stroke-linejoin="round" stroke-linecap="round" stroke-linecap="butt"/>
<polyline points="322.60,218.50 358.50,218.50 382.70,130.00 410.00,118.00 497.60,125.00" fill="none" stroke="rgba(80,75,185,0.55)" stroke-width="0.95" stroke-linejoin="round" stroke-linecap="round" stroke-linecap="butt"/>
<line x1="322.60" y1="218.50" x2="351.70" y2="218.50" stroke="#d4464b" stroke-width="1.0" />
<line x1="351.70" y1="218.50" x2="383.40" y2="218.50" stroke="#5a55bb" stroke-width="1.0" />
<line x1="383.40" y1="218.50" x2="491.00" y2="218.50" stroke="#a04a8c" stroke-width="1.0" />
<polyline points="322.60,217.20 323.55,216.05 324.80,214.56 326.29,212.78 327.95,210.79 329.72,208.65 331.52,206.42 333.31,204.19 335.00,202.00 336.64,199.82 338.32,197.55 340.01,195.21 341.73,192.82 343.45,190.39 345.17,187.94 346.89,185.47 348.60,183.00 350.33,180.47 352.10,177.84 353.88,175.15 355.66,172.46 357.40,169.81 359.09,167.25 360.70,164.83 362.20,162.60 363.60,160.56 364.93,158.66 366.18,156.88 367.37,155.21 368.52,153.60 369.61,152.05 370.67,150.52 371.70,149.00 372.67,147.49 373.56,146.02 374.39,144.59 375.18,143.21 375.97,141.86 376.76,140.56 377.60,139.31 378.50,138.10 379.45,136.93 380.42,135.78 381.42,134.68 382.43,133.62 383.47,132.62 384.53,131.68 385.60,130.80 386.70,130.00 387.83,129.28 389.00,128.62 390.20,128.04 391.41,127.51 392.63,127.04 393.84,126.62 395.04,126.24 396.20,125.90 397.35,125.60 398.49,125.35 399.63,125.14 400.76,124.99 401.86,124.88 402.94,124.81 403.99,124.78 405.00,124.80 405.96,124.85 406.87,124.93 407.75,125.04 408.60,125.21 409.44,125.42 410.28,125.71 411.13,126.06 412.00,126.50 412.85,127.01 413.63,127.58 414.40,128.21 415.17,128.91 416.01,129.68 416.93,130.53 417.98,131.47 419.20,132.50 420.61,133.69 422.19,135.05 423.89,136.54 425.69,138.09 427.53,139.65 429.40,141.14 431.23,142.51 433.00,143.70 434.72,144.72 436.45,145.62 438.17,146.42 439.89,147.16 441.62,147.84 443.34,148.49 445.07,149.14 446.80,149.80 448.54,150.46 450.31,151.09 452.08,151.70 453.84,152.29 455.60,152.86 457.34,153.42 459.04,153.97 460.70,154.50 462.28,155.02 463.75,155.52 465.18,156.00 466.59,156.46 468.04,156.92 469.56,157.38 471.20,157.84 473.00,158.30 475.10,158.79 477.52,159.32 480.12,159.86 482.77,160.39 485.32,160.89 487.63,161.34 489.57,161.72 491.00,162.00" fill="none" stroke="#e0302a" stroke-width="2.45" stroke-linejoin="round" stroke-linecap="round" stroke-linecap="butt"/>
<polyline points="322.60,216.40 323.55,215.37 324.80,214.02 326.29,212.41 327.95,210.61 329.72,208.70 331.52,206.75 333.31,204.82 335.00,203.00 336.64,201.21 338.32,199.35 340.01,197.45 341.73,195.54 343.45,193.66 345.17,191.82 346.89,190.06 348.60,188.40 350.32,186.85 352.06,185.38 353.82,183.98 355.57,182.63 357.30,181.32 358.99,180.04 360.63,178.77 362.20,177.50 363.70,176.26 365.15,175.09 366.55,173.95 367.91,172.83 369.23,171.70 370.54,170.53 371.82,169.31 373.10,168.00 374.37,166.56 375.64,164.98 376.88,163.33 378.11,161.65 379.30,160.00 380.45,158.44 381.55,157.02 382.60,155.80 383.57,154.78 384.46,153.92 385.29,153.18 386.09,152.54 386.87,151.96 387.67,151.41 388.51,150.87 389.40,150.30 390.35,149.71 391.35,149.13 392.37,148.58 393.41,148.04 394.45,147.54 395.49,147.08 396.51,146.67 397.50,146.30 398.47,145.99 399.43,145.73 400.38,145.52 401.32,145.34 402.25,145.20 403.17,145.08 404.09,144.99 405.00,144.90 405.80,144.80 406.46,144.67 407.05,144.55 407.66,144.46 408.37,144.44 409.28,144.50 410.46,144.68 412.00,145.00 413.97,145.52 416.32,146.22 418.96,147.05 421.78,147.97 424.69,148.91 427.60,149.84 430.40,150.68 433.00,151.40 435.41,152.00 437.73,152.53 439.99,153.02 442.22,153.46 444.45,153.89 446.72,154.31 449.06,154.74 451.50,155.20 454.02,155.67 456.59,156.14 459.21,156.60 461.87,157.07 464.58,157.54 467.34,158.01 470.14,158.50 473.00,159.00 476.09,159.54 479.51,160.14 483.08,160.76 486.64,161.39 490.04,161.98 493.11,162.52 495.68,162.96 497.60,163.30" fill="none" stroke="#2b1a7a" stroke-width="2.45" stroke-linejoin="round" stroke-linecap="round" stroke-linecap="butt"/>
</g>
<rect x="52.50" y="47.00" width="199.25" height="194.50" fill="none" stroke="#000" stroke-width="1.1" />
<line x1="49.50" y1="212.50" x2="52.50" y2="212.50" stroke="#222" stroke-width="1.15" />
<text x="33.60" y="215.50" font-size="9.9" text-anchor="start" font-weight="normal" fill="#2a2a2a" stroke="#2a2a2a" stroke-width="0.18" textLength="8.20" lengthAdjust="spacingAndGlyphs" >10</text>
<text x="42.00" y="212.10" font-size="7.0" text-anchor="start" font-weight="normal" fill="#2a2a2a" stroke="#2a2a2a" stroke-width="0.18" textLength="4.00" lengthAdjust="spacingAndGlyphs" >-2</text>
<line x1="49.50" y1="182.85" x2="52.50" y2="182.85" stroke="#222" stroke-width="1.15" />
<text x="33.60" y="185.85" font-size="9.9" text-anchor="start" font-weight="normal" fill="#2a2a2a" stroke="#2a2a2a" stroke-width="0.18" textLength="8.20" lengthAdjust="spacingAndGlyphs" >10</text>
<text x="42.00" y="182.45" font-size="7.0" text-anchor="start" font-weight="normal" fill="#2a2a2a" stroke="#2a2a2a" stroke-width="0.18" textLength="4.00" lengthAdjust="spacingAndGlyphs" >-1</text>
<line x1="49.50" y1="153.20" x2="52.50" y2="153.20" stroke="#222" stroke-width="1.15" />
<text x="33.60" y="156.20" font-size="9.9" text-anchor="start" font-weight="normal" fill="#2a2a2a" stroke="#2a2a2a" stroke-width="0.18" textLength="8.20" lengthAdjust="spacingAndGlyphs" >10</text>
<text x="42.60" y="152.80" font-size="7.0" text-anchor="start" font-weight="normal" fill="#2a2a2a" stroke="#2a2a2a" stroke-width="0.18" textLength="3.50" lengthAdjust="spacingAndGlyphs" >0</text>
<line x1="49.50" y1="123.55" x2="52.50" y2="123.55" stroke="#222" stroke-width="1.15" />
<text x="33.60" y="126.55" font-size="9.9" text-anchor="start" font-weight="normal" fill="#2a2a2a" stroke="#2a2a2a" stroke-width="0.18" textLength="8.20" lengthAdjust="spacingAndGlyphs" >10</text>
<text x="42.60" y="123.15" font-size="7.0" text-anchor="start" font-weight="normal" fill="#2a2a2a" stroke="#2a2a2a" stroke-width="0.18" textLength="3.50" lengthAdjust="spacingAndGlyphs" >1</text>
<line x1="49.50" y1="93.90" x2="52.50" y2="93.90" stroke="#222" stroke-width="1.15" />
<text x="33.60" y="96.90" font-size="9.9" text-anchor="start" font-weight="normal" fill="#2a2a2a" stroke="#2a2a2a" stroke-width="0.18" textLength="8.20" lengthAdjust="spacingAndGlyphs" >10</text>
<text x="42.60" y="93.50" font-size="7.0" text-anchor="start" font-weight="normal" fill="#2a2a2a" stroke="#2a2a2a" stroke-width="0.18" textLength="3.50" lengthAdjust="spacingAndGlyphs" >2</text>
<line x1="49.50" y1="64.25" x2="52.50" y2="64.25" stroke="#222" stroke-width="1.15" />
<text x="33.60" y="67.25" font-size="9.9" text-anchor="start" font-weight="normal" fill="#2a2a2a" stroke="#2a2a2a" stroke-width="0.18" textLength="8.20" lengthAdjust="spacingAndGlyphs" >10</text>
<text x="42.60" y="63.85" font-size="7.0" text-anchor="start" font-weight="normal" fill="#2a2a2a" stroke="#2a2a2a" stroke-width="0.18" textLength="3.50" lengthAdjust="spacingAndGlyphs" >3</text>
<line x1="61.25" y1="241.50" x2="61.25" y2="244.50" stroke="#222" stroke-width="1.15" />
<text x="61.25" y="255.50" font-size="9.6" text-anchor="middle" font-weight="normal" fill="#333" stroke="#333" stroke-width="0.18" textLength="4.30" lengthAdjust="spacingAndGlyphs" >0</text>
<line x1="121.65" y1="241.50" x2="121.65" y2="244.50" stroke="#222" stroke-width="1.15" />
<text x="121.65" y="255.50" font-size="9.6" text-anchor="middle" font-weight="normal" fill="#333" stroke="#333" stroke-width="0.18" textLength="8.60" lengthAdjust="spacingAndGlyphs" >10</text>
<line x1="182.05" y1="241.50" x2="182.05" y2="244.50" stroke="#222" stroke-width="1.15" />
<text x="182.05" y="255.50" font-size="9.6" text-anchor="middle" font-weight="normal" fill="#333" stroke="#333" stroke-width="0.18" textLength="8.60" lengthAdjust="spacingAndGlyphs" >20</text>
<line x1="242.45" y1="241.50" x2="242.45" y2="244.50" stroke="#222" stroke-width="1.15" />
<text x="242.45" y="255.50" font-size="9.6" text-anchor="middle" font-weight="normal" fill="#333" stroke="#333" stroke-width="0.18" textLength="8.60" lengthAdjust="spacingAndGlyphs" >30</text>
<text x="25.20" y="144.60" font-size="10.1" text-anchor="middle" font-weight="normal" fill="#1a1a1a" stroke="#1a1a1a" stroke-width="0.18" textLength="71.00" lengthAdjust="spacingAndGlyphs" transform="rotate(-90 25.20 144.60)" >CD8+ CAR-T cells/μL</text>
<text x="152.30" y="269.50" font-size="10.0" text-anchor="middle" font-weight="normal" fill="#1a1a1a" stroke="#1a1a1a" stroke-width="0.18" textLength="123.00" lengthAdjust="spacingAndGlyphs" >Time after CAR T-cell infusion (days)</text>
<rect x="313.25" y="47.00" width="199.25" height="194.75" fill="none" stroke="#000" stroke-width="1.1" />
<line x1="310.25" y1="218.25" x2="313.25" y2="218.25" stroke="#222" stroke-width="1.15" />
<text x="294.20" y="221.25" font-size="9.9" text-anchor="start" font-weight="normal" fill="#2a2a2a" stroke="#2a2a2a" stroke-width="0.18" textLength="8.20" lengthAdjust="spacingAndGlyphs" >10</text>
<text x="302.60" y="217.85" font-size="7.0" text-anchor="start" font-weight="normal" fill="#2a2a2a" stroke="#2a2a2a" stroke-width="0.18" textLength="4.00" lengthAdjust="spacingAndGlyphs" >-2</text>
<line x1="310.25" y1="186.65" x2="313.25" y2="186.65" stroke="#222" stroke-width="1.15" />
<text x="294.20" y="189.65" font-size="9.9" text-anchor="start" font-weight="normal" fill="#2a2a2a" stroke="#2a2a2a" stroke-width="0.18" textLength="8.20" lengthAdjust="spacingAndGlyphs" >10</text>
<text x="302.60" y="186.25" font-size="7.0" text-anchor="start" font-weight="normal" fill="#2a2a2a" stroke="#2a2a2a" stroke-width="0.18" textLength="4.00" lengthAdjust="spacingAndGlyphs" >-1</text>
<line x1="310.25" y1="155.05" x2="313.25" y2="155.05" stroke="#222" stroke-width="1.15" />
<text x="294.20" y="158.05" font-size="9.9" text-anchor="start" font-weight="normal" fill="#2a2a2a" stroke="#2a2a2a" stroke-width="0.18" textLength="8.20" lengthAdjust="spacingAndGlyphs" >10</text>
<text x="303.20" y="154.65" font-size="7.0" text-anchor="start" font-weight="normal" fill="#2a2a2a" stroke="#2a2a2a" stroke-width="0.18" textLength="3.50" lengthAdjust="spacingAndGlyphs" >0</text>
<line x1="310.25" y1="123.45" x2="313.25" y2="123.45" stroke="#222" stroke-width="1.15" />
<text x="294.20" y="126.45" font-size="9.9" text-anchor="start" font-weight="normal" fill="#2a2a2a" stroke="#2a2a2a" stroke-width="0.18" textLength="8.20" lengthAdjust="spacingAndGlyphs" >10</text>
<text x="303.20" y="123.05" font-size="7.0" text-anchor="start" font-weight="normal" fill="#2a2a2a" stroke="#2a2a2a" stroke-width="0.18" textLength="3.50" lengthAdjust="spacingAndGlyphs" >1</text>
<line x1="310.25" y1="91.85" x2="313.25" y2="91.85" stroke="#222" stroke-width="1.15" />
<text x="294.20" y="94.85" font-size="9.9" text-anchor="start" font-weight="normal" fill="#2a2a2a" stroke="#2a2a2a" stroke-width="0.18" textLength="8.20" lengthAdjust="spacingAndGlyphs" >10</text>
<text x="303.20" y="91.45" font-size="7.0" text-anchor="start" font-weight="normal" fill="#2a2a2a" stroke="#2a2a2a" stroke-width="0.18" textLength="3.50" lengthAdjust="spacingAndGlyphs" >2</text>
<line x1="310.25" y1="60.25" x2="313.25" y2="60.25" stroke="#222" stroke-width="1.15" />
<text x="294.20" y="63.25" font-size="9.9" text-anchor="start" font-weight="normal" fill="#2a2a2a" stroke="#2a2a2a" stroke-width="0.18" textLength="8.20" lengthAdjust="spacingAndGlyphs" >10</text>
<text x="303.20" y="59.85" font-size="7.0" text-anchor="start" font-weight="normal" fill="#2a2a2a" stroke="#2a2a2a" stroke-width="0.18" textLength="3.50" lengthAdjust="spacingAndGlyphs" >3</text>
<line x1="323.25" y1="241.75" x2="323.25" y2="244.75" stroke="#222" stroke-width="1.15" />
<text x="323.25" y="255.75" font-size="9.6" text-anchor="middle" font-weight="normal" fill="#333" stroke="#333" stroke-width="0.18" textLength="4.30" lengthAdjust="spacingAndGlyphs" >0</text>
<line x1="383.25" y1="241.75" x2="383.25" y2="244.75" stroke="#222" stroke-width="1.15" />
<text x="383.25" y="255.75" font-size="9.6" text-anchor="middle" font-weight="normal" fill="#333" stroke="#333" stroke-width="0.18" textLength="8.60" lengthAdjust="spacingAndGlyphs" >10</text>
<line x1="443.25" y1="241.75" x2="443.25" y2="244.75" stroke="#222" stroke-width="1.15" />
<text x="443.25" y="255.75" font-size="9.6" text-anchor="middle" font-weight="normal" fill="#333" stroke="#333" stroke-width="0.18" textLength="8.60" lengthAdjust="spacingAndGlyphs" >20</text>
<line x1="503.25" y1="241.75" x2="503.25" y2="244.75" stroke="#222" stroke-width="1.15" />
<text x="503.25" y="255.75" font-size="9.6" text-anchor="middle" font-weight="normal" fill="#333" stroke="#333" stroke-width="0.18" textLength="8.60" lengthAdjust="spacingAndGlyphs" >30</text>
<text x="287.30" y="144.30" font-size="10.1" text-anchor="middle" font-weight="normal" fill="#1a1a1a" stroke="#1a1a1a" stroke-width="0.18" textLength="71.50" lengthAdjust="spacingAndGlyphs" transform="rotate(-90 287.30 144.30)" >CD4+ CAR-T cells/μL</text>
<text x="413.00" y="269.75" font-size="10.0" text-anchor="middle" font-weight="normal" fill="#1a1a1a" stroke="#1a1a1a" stroke-width="0.18" textLength="123.00" lengthAdjust="spacingAndGlyphs" >Time after CAR T-cell infusion (days)</text>
<line x1="52.50" y1="300.75" x2="52.50" y2="449.50" stroke="#000" stroke-width="1.1" />
<line x1="52.00" y1="449.50" x2="253.40" y2="449.50" stroke="#000" stroke-width="1.1" />
<line x1="49.50" y1="422.75" x2="52.50" y2="422.75" stroke="#222" stroke-width="1.15" />
<text x="33.60" y="425.75" font-size="9.9" text-anchor="start" font-weight="normal" fill="#2a2a2a" stroke="#2a2a2a" stroke-width="0.18" textLength="8.20" lengthAdjust="spacingAndGlyphs" >10</text>
<text x="42.60" y="422.35" font-size="7.0" text-anchor="start" font-weight="normal" fill="#2a2a2a" stroke="#2a2a2a" stroke-width="0.18" textLength="3.50" lengthAdjust="spacingAndGlyphs" >0</text>
<line x1="49.50" y1="387.65" x2="52.50" y2="387.65" stroke="#222" stroke-width="1.15" />
<text x="33.60" y="390.65" font-size="9.9" text-anchor="start" font-weight="normal" fill="#2a2a2a" stroke="#2a2a2a" stroke-width="0.18" textLength="8.20" lengthAdjust="spacingAndGlyphs" >10</text>
<text x="42.60" y="387.25" font-size="7.0" text-anchor="start" font-weight="normal" fill="#2a2a2a" stroke="#2a2a2a" stroke-width="0.18" textLength="3.50" lengthAdjust="spacingAndGlyphs" >1</text>
<line x1="49.50" y1="352.55" x2="52.50" y2="352.55" stroke="#222" stroke-width="1.15" />
<text x="33.60" y="355.55" font-size="9.9" text-anchor="start" font-weight="normal" fill="#2a2a2a" stroke="#2a2a2a" stroke-width="0.18" textLength="8.20" lengthAdjust="spacingAndGlyphs" >10</text>
<text x="42.60" y="352.15" font-size="7.0" text-anchor="start" font-weight="normal" fill="#2a2a2a" stroke="#2a2a2a" stroke-width="0.18" textLength="3.50" lengthAdjust="spacingAndGlyphs" >2</text>
<line x1="49.50" y1="317.45" x2="52.50" y2="317.45" stroke="#222" stroke-width="1.15" />
<text x="33.60" y="320.45" font-size="9.9" text-anchor="start" font-weight="normal" fill="#2a2a2a" stroke="#2a2a2a" stroke-width="0.18" textLength="8.20" lengthAdjust="spacingAndGlyphs" >10</text>
<text x="42.60" y="317.05" font-size="7.0" text-anchor="start" font-weight="normal" fill="#2a2a2a" stroke="#2a2a2a" stroke-width="0.18" textLength="3.50" lengthAdjust="spacingAndGlyphs" >3</text>
<line x1="107.50" y1="449.50" x2="107.50" y2="452.50" stroke="#222" stroke-width="1.15" />
<text x="107.50" y="463.70" font-size="9.4" text-anchor="middle" font-weight="normal" fill="#222" stroke="#222" stroke-width="0.18" textLength="28.50" lengthAdjust="spacingAndGlyphs" >Con-ibr</text>
<line x1="198.30" y1="449.50" x2="198.30" y2="452.50" stroke="#222" stroke-width="1.15" />
<text x="198.30" y="463.70" font-size="9.4" text-anchor="middle" font-weight="normal" fill="#222" stroke="#222" stroke-width="0.18" textLength="24.30" lengthAdjust="spacingAndGlyphs" >No-ibr</text>
<text x="27.70" y="374.70" font-size="10.1" text-anchor="middle" font-weight="normal" fill="#1a1a1a" stroke="#1a1a1a" stroke-width="0.18" textLength="87.00" lengthAdjust="spacingAndGlyphs" transform="rotate(-90 27.70 374.70)" >CD8+ CAR-T cell peak/μL</text>
<line x1="107.05" y1="307.40" x2="107.05" y2="328.10" stroke="#d44a4e" stroke-width="1.1" />
<line x1="107.05" y1="379.70" x2="107.05" y2="428.40" stroke="#d44a4e" stroke-width="1.1" />
<rect x="72.80" y="328.10" width="68.50" height="51.60" fill="none" stroke="#d44a4e" stroke-width="1.1" />
<line x1="72.80" y1="343.30" x2="141.30" y2="343.30" stroke="#d44a4e" stroke-width="1.265" />
<line x1="198.70" y1="318.00" x2="198.70" y2="348.70" stroke="#3a3490" stroke-width="1.1" />
<line x1="198.70" y1="384.50" x2="198.70" y2="415.80" stroke="#3a3490" stroke-width="1.1" />
<rect x="164.20" y="348.70" width="69.00" height="35.80" fill="none" stroke="#3a3490" stroke-width="1.1" />
<line x1="164.20" y1="368.60" x2="233.20" y2="368.60" stroke="#3a3490" stroke-width="1.265" />
<text x="157.50" y="311.70" font-size="8.3" text-anchor="middle" font-weight="normal" fill="#222" stroke="#222" stroke-width="0.18" textLength="20.30" lengthAdjust="spacingAndGlyphs" >p=0.4</text>
<line x1="313.40" y1="300.70" x2="313.40" y2="449.30" stroke="#000" stroke-width="1.1" />
<line x1="312.90" y1="449.30" x2="512.50" y2="449.30" stroke="#000" stroke-width="1.1" />
<line x1="310.40" y1="430.55" x2="313.40" y2="430.55" stroke="#222" stroke-width="1.15" />
<text x="294.30" y="433.55" font-size="9.9" text-anchor="start" font-weight="normal" fill="#2a2a2a" stroke="#2a2a2a" stroke-width="0.18" textLength="8.20" lengthAdjust="spacingAndGlyphs" >10</text>
<text x="302.70" y="430.15" font-size="7.0" text-anchor="start" font-weight="normal" fill="#2a2a2a" stroke="#2a2a2a" stroke-width="0.18" textLength="4.00" lengthAdjust="spacingAndGlyphs" >-1</text>
<line x1="310.40" y1="400.80" x2="313.40" y2="400.80" stroke="#222" stroke-width="1.15" />
<text x="294.30" y="403.80" font-size="9.9" text-anchor="start" font-weight="normal" fill="#2a2a2a" stroke="#2a2a2a" stroke-width="0.18" textLength="8.20" lengthAdjust="spacingAndGlyphs" >10</text>
<text x="303.30" y="400.40" font-size="7.0" text-anchor="start" font-weight="normal" fill="#2a2a2a" stroke="#2a2a2a" stroke-width="0.18" textLength="3.50" lengthAdjust="spacingAndGlyphs" >0</text>
<line x1="310.40" y1="371.05" x2="313.40" y2="371.05" stroke="#222" stroke-width="1.15" />
<text x="294.30" y="374.05" font-size="9.9" text-anchor="start" font-weight="normal" fill="#2a2a2a" stroke="#2a2a2a" stroke-width="0.18" textLength="8.20" lengthAdjust="spacingAndGlyphs" >10</text>
<text x="303.30" y="370.65" font-size="7.0" text-anchor="start" font-weight="normal" fill="#2a2a2a" stroke="#2a2a2a" stroke-width="0.18" textLength="3.50" lengthAdjust="spacingAndGlyphs" >1</text>
<line x1="310.40" y1="341.30" x2="313.40" y2="341.30" stroke="#222" stroke-width="1.15" />
<text x="294.30" y="344.30" font-size="9.9" text-anchor="start" font-weight="normal" fill="#2a2a2a" stroke="#2a2a2a" stroke-width="0.18" textLength="8.20" lengthAdjust="spacingAndGlyphs" >10</text>
<text x="303.30" y="340.90" font-size="7.0" text-anchor="start" font-weight="normal" fill="#2a2a2a" stroke="#2a2a2a" stroke-width="0.18" textLength="3.50" lengthAdjust="spacingAndGlyphs" >2</text>
<line x1="310.40" y1="311.55" x2="313.40" y2="311.55" stroke="#222" stroke-width="1.15" />
<text x="294.30" y="314.55" font-size="9.9" text-anchor="start" font-weight="normal" fill="#2a2a2a" stroke="#2a2a2a" stroke-width="0.18" textLength="8.20" lengthAdjust="spacingAndGlyphs" >10</text>
<text x="303.30" y="311.15" font-size="7.0" text-anchor="start" font-weight="normal" fill="#2a2a2a" stroke="#2a2a2a" stroke-width="0.18" textLength="3.50" lengthAdjust="spacingAndGlyphs" >3</text>
<line x1="367.90" y1="449.30" x2="367.90" y2="452.30" stroke="#222" stroke-width="1.15" />
<text x="367.90" y="463.50" font-size="9.4" text-anchor="middle" font-weight="normal" fill="#222" stroke="#222" stroke-width="0.18" textLength="28.50" lengthAdjust="spacingAndGlyphs" >Con-ibr</text>
<line x1="458.30" y1="449.30" x2="458.30" y2="452.30" stroke="#222" stroke-width="1.15" />
<text x="458.30" y="463.50" font-size="9.4" text-anchor="middle" font-weight="normal" fill="#222" stroke="#222" stroke-width="0.18" textLength="24.30" lengthAdjust="spacingAndGlyphs" >No-ibr</text>
<text x="289.50" y="374.60" font-size="10.1" text-anchor="middle" font-weight="normal" fill="#1a1a1a" stroke="#1a1a1a" stroke-width="0.18" textLength="86.00" lengthAdjust="spacingAndGlyphs" transform="rotate(-90 289.50 374.60)" >CD4+ CAR T cell peak/μL</text>
<line x1="367.60" y1="314.10" x2="367.60" y2="345.30" stroke="#d44a4e" stroke-width="1.1" />
<line x1="367.60" y1="370.30" x2="367.60" y2="400.40" stroke="#d44a4e" stroke-width="1.1" />
<rect x="333.60" y="345.30" width="68.00" height="25.00" fill="none" stroke="#d44a4e" stroke-width="1.1" />
<line x1="333.60" y1="360.30" x2="401.60" y2="360.30" stroke="#d44a4e" stroke-width="1.265" />
<line x1="458.30" y1="344.70" x2="458.30" y2="360.60" stroke="#3a3490" stroke-width="1.1" />
<line x1="458.30" y1="394.40" x2="458.30" y2="418.30" stroke="#3a3490" stroke-width="1.1" />
<rect x="424.30" y="360.60" width="68.00" height="33.80" fill="none" stroke="#3a3490" stroke-width="1.1" />
<line x1="424.30" y1="376.90" x2="492.30" y2="376.90" stroke="#3a3490" stroke-width="1.265" />
<text x="419.45" y="311.20" font-size="8.3" text-anchor="middle" font-weight="normal" fill="#222" stroke="#222" stroke-width="0.18" textLength="29.30" lengthAdjust="spacingAndGlyphs" >p=0.064</text>
<text x="153.10" y="502.70" font-size="11.2" text-anchor="middle" font-weight="normal" fill="#1a1a1a" stroke="#1a1a1a" stroke-width="0.18" textLength="61.50" lengthAdjust="spacingAndGlyphs" >Grade of CRS</text>
<rect x="52.75" y="508.00" width="97.35" height="16.20" fill="#d9d9d9" stroke="none" stroke-width="1" />
<rect x="155.90" y="508.00" width="97.70" height="16.20" fill="#d9d9d9" stroke="none" stroke-width="1" />
<text x="101.40" y="518.90" font-size="9.6" text-anchor="middle" font-weight="normal" fill="#1a1a1a" stroke="#1a1a1a" stroke-width="0.18" textLength="31.00" lengthAdjust="spacingAndGlyphs" >Grade 0</text>
<text x="204.75" y="518.90" font-size="9.6" text-anchor="middle" font-weight="normal" fill="#1a1a1a" stroke="#1a1a1a" stroke-width="0.18" textLength="38.00" lengthAdjust="spacingAndGlyphs" >Grade 1-2</text>
<line x1="52.75" y1="524.20" x2="52.75" y2="639.00" stroke="#000" stroke-width="1.1" />
<line x1="52.25" y1="639.00" x2="150.10" y2="639.00" stroke="#000" stroke-width="1.1" />
<line x1="49.75" y1="629.10" x2="52.75" y2="629.10" stroke="#222" stroke-width="1.15" />
<text x="33.60" y="632.10" font-size="9.9" text-anchor="start" font-weight="normal" fill="#2a2a2a" stroke="#2a2a2a" stroke-width="0.18" textLength="8.20" lengthAdjust="spacingAndGlyphs" >10</text>
<text x="42.60" y="628.70" font-size="7.0" text-anchor="start" font-weight="normal" fill="#2a2a2a" stroke="#2a2a2a" stroke-width="0.18" textLength="3.50" lengthAdjust="spacingAndGlyphs" >0</text>
<line x1="49.75" y1="602.17" x2="52.75" y2="602.17" stroke="#222" stroke-width="1.15" />
<text x="33.60" y="605.17" font-size="9.9" text-anchor="start" font-weight="normal" fill="#2a2a2a" stroke="#2a2a2a" stroke-width="0.18" textLength="8.20" lengthAdjust="spacingAndGlyphs" >10</text>
<text x="42.60" y="601.77" font-size="7.0" text-anchor="start" font-weight="normal" fill="#2a2a2a" stroke="#2a2a2a" stroke-width="0.18" textLength="3.50" lengthAdjust="spacingAndGlyphs" >1</text>
<line x1="49.75" y1="575.24" x2="52.75" y2="575.24" stroke="#222" stroke-width="1.15" />
<text x="33.60" y="578.24" font-size="9.9" text-anchor="start" font-weight="normal" fill="#2a2a2a" stroke="#2a2a2a" stroke-width="0.18" textLength="8.20" lengthAdjust="spacingAndGlyphs" >10</text>
<text x="42.60" y="574.84" font-size="7.0" text-anchor="start" font-weight="normal" fill="#2a2a2a" stroke="#2a2a2a" stroke-width="0.18" textLength="3.50" lengthAdjust="spacingAndGlyphs" >2</text>
<line x1="49.75" y1="548.31" x2="52.75" y2="548.31" stroke="#222" stroke-width="1.15" />
<text x="33.60" y="551.31" font-size="9.9" text-anchor="start" font-weight="normal" fill="#2a2a2a" stroke="#2a2a2a" stroke-width="0.18" textLength="8.20" lengthAdjust="spacingAndGlyphs" >10</text>
<text x="42.60" y="547.91" font-size="7.0" text-anchor="start" font-weight="normal" fill="#2a2a2a" stroke="#2a2a2a" stroke-width="0.18" textLength="3.50" lengthAdjust="spacingAndGlyphs" >3</text>
<line x1="79.00" y1="639.00" x2="79.00" y2="642.00" stroke="#222" stroke-width="1.15" />
<text x="79.00" y="653.20" font-size="9.4" text-anchor="middle" font-weight="normal" fill="#222" stroke="#222" stroke-width="0.18" textLength="28.50" lengthAdjust="spacingAndGlyphs" >Con-ibr</text>
<line x1="123.20" y1="639.00" x2="123.20" y2="642.00" stroke="#222" stroke-width="1.15" />
<text x="123.20" y="653.20" font-size="9.4" text-anchor="middle" font-weight="normal" fill="#222" stroke="#222" stroke-width="0.18" textLength="24.30" lengthAdjust="spacingAndGlyphs" >No-ibr</text>
<text x="28.10" y="581.50" font-size="10.1" text-anchor="middle" font-weight="normal" fill="#1a1a1a" stroke="#1a1a1a" stroke-width="0.18" textLength="87.00" lengthAdjust="spacingAndGlyphs" transform="rotate(-90 28.10 581.50)" >CD8+ CAR T cell peak/μL</text>
<line x1="155.90" y1="524.20" x2="155.90" y2="639.00" stroke="#000" stroke-width="1.1" />
<line x1="155.40" y1="639.00" x2="253.60" y2="639.00" stroke="#000" stroke-width="1.1" />
<line x1="182.30" y1="639.00" x2="182.30" y2="642.00" stroke="#222" stroke-width="1.15" />
<text x="182.30" y="653.20" font-size="9.4" text-anchor="middle" font-weight="normal" fill="#222" stroke="#222" stroke-width="0.18" textLength="28.50" lengthAdjust="spacingAndGlyphs" >Con-ibr</text>
<line x1="226.70" y1="639.00" x2="226.70" y2="642.00" stroke="#222" stroke-width="1.15" />
<text x="226.70" y="653.20" font-size="9.4" text-anchor="middle" font-weight="normal" fill="#222" stroke="#222" stroke-width="0.18" textLength="24.30" lengthAdjust="spacingAndGlyphs" >No-ibr</text>
<text x="100.35" y="533.70" font-size="8.3" text-anchor="middle" font-weight="normal" fill="#222" stroke="#222" stroke-width="0.18" textLength="25.10" lengthAdjust="spacingAndGlyphs" >p=0.56</text>
<text x="203.50" y="533.70" font-size="8.3" text-anchor="middle" font-weight="normal" fill="#222" stroke="#222" stroke-width="0.18" textLength="25.10" lengthAdjust="spacingAndGlyphs" >p=0.42</text>
<line x1="78.95" y1="562.80" x2="78.95" y2="573.80" stroke="#d44a4e" stroke-width="1.1" />
<line x1="78.95" y1="596.20" x2="78.95" y2="596.20" stroke="#d44a4e" stroke-width="1.1" />
<rect x="62.30" y="573.80" width="33.30" height="22.40" fill="none" stroke="#d44a4e" stroke-width="1.1" />
<line x1="62.30" y1="596.20" x2="95.60" y2="596.20" stroke="#d44a4e" stroke-width="1.265" />
<line x1="107.10" y1="624.60" x2="140.30" y2="624.60" stroke="#3a3490" stroke-width="1.6" />
<line x1="182.40" y1="541.00" x2="182.40" y2="553.70" stroke="#d44a4e" stroke-width="1.1" />
<line x1="182.40" y1="592.50" x2="182.40" y2="614.00" stroke="#d44a4e" stroke-width="1.1" />
<rect x="165.70" y="553.70" width="33.40" height="38.80" fill="none" stroke="#d44a4e" stroke-width="1.1" />
<line x1="165.70" y1="563.80" x2="199.10" y2="563.80" stroke="#d44a4e" stroke-width="1.265" />
<line x1="227.25" y1="549.20" x2="227.25" y2="565.80" stroke="#3a3490" stroke-width="1.1" />
<line x1="227.25" y1="596.10" x2="227.25" y2="612.20" stroke="#3a3490" stroke-width="1.1" />
<rect x="210.60" y="565.80" width="33.30" height="30.30" fill="none" stroke="#3a3490" stroke-width="1.1" />
<line x1="210.60" y1="587.00" x2="243.90" y2="587.00" stroke="#3a3490" stroke-width="1.265" />
<text x="413.30" y="502.70" font-size="11.2" text-anchor="middle" font-weight="normal" fill="#1a1a1a" stroke="#1a1a1a" stroke-width="0.18" textLength="61.50" lengthAdjust="spacingAndGlyphs" >Grade of CRS</text>
<rect x="313.60" y="508.00" width="95.70" height="16.20" fill="#d9d9d9" stroke="none" stroke-width="1" />
<rect x="415.10" y="508.00" width="95.90" height="16.20" fill="#d9d9d9" stroke="none" stroke-width="1" />
<text x="361.45" y="518.90" font-size="9.6" text-anchor="middle" font-weight="normal" fill="#1a1a1a" stroke="#1a1a1a" stroke-width="0.18" textLength="31.00" lengthAdjust="spacingAndGlyphs" >Grade 0</text>
<text x="463.05" y="518.90" font-size="9.6" text-anchor="middle" font-weight="normal" fill="#1a1a1a" stroke="#1a1a1a" stroke-width="0.18" textLength="38.00" lengthAdjust="spacingAndGlyphs" >Grade 1-2</text>
<line x1="313.60" y1="524.20" x2="313.60" y2="639.00" stroke="#000" stroke-width="1.1" />
<line x1="313.10" y1="639.00" x2="409.30" y2="639.00" stroke="#000" stroke-width="1.1" />
<line x1="310.60" y1="625.65" x2="313.60" y2="625.65" stroke="#222" stroke-width="1.15" />
<text x="294.20" y="628.65" font-size="9.9" text-anchor="start" font-weight="normal" fill="#2a2a2a" stroke="#2a2a2a" stroke-width="0.18" textLength="8.20" lengthAdjust="spacingAndGlyphs" >10</text>
<text x="302.60" y="625.25" font-size="7.0" text-anchor="start" font-weight="normal" fill="#2a2a2a" stroke="#2a2a2a" stroke-width="0.18" textLength="4.00" lengthAdjust="spacingAndGlyphs" >-1</text>
<line x1="310.60" y1="605.20" x2="313.60" y2="605.20" stroke="#222" stroke-width="1.15" />
<text x="294.20" y="608.20" font-size="9.9" text-anchor="start" font-weight="normal" fill="#2a2a2a" stroke="#2a2a2a" stroke-width="0.18" textLength="8.20" lengthAdjust="spacingAndGlyphs" >10</text>
<text x="303.20" y="604.80" font-size="7.0" text-anchor="start" font-weight="normal" fill="#2a2a2a" stroke="#2a2a2a" stroke-width="0.18" textLength="3.50" lengthAdjust="spacingAndGlyphs" >0</text>
<line x1="310.60" y1="584.75" x2="313.60" y2="584.75" stroke="#222" stroke-width="1.15" />
<text x="294.20" y="587.75" font-size="9.9" text-anchor="start" font-weight="normal" fill="#2a2a2a" stroke="#2a2a2a" stroke-width="0.18" textLength="8.20" lengthAdjust="spacingAndGlyphs" >10</text>
<text x="303.20" y="584.35" font-size="7.0" text-anchor="start" font-weight="normal" fill="#2a2a2a" stroke="#2a2a2a" stroke-width="0.18" textLength="3.50" lengthAdjust="spacingAndGlyphs" >1</text>
<line x1="310.60" y1="564.30" x2="313.60" y2="564.30" stroke="#222" stroke-width="1.15" />
<text x="294.20" y="567.30" font-size="9.9" text-anchor="start" font-weight="normal" fill="#2a2a2a" stroke="#2a2a2a" stroke-width="0.18" textLength="8.20" lengthAdjust="spacingAndGlyphs" >10</text>
<text x="303.20" y="563.90" font-size="7.0" text-anchor="start" font-weight="normal" fill="#2a2a2a" stroke="#2a2a2a" stroke-width="0.18" textLength="3.50" lengthAdjust="spacingAndGlyphs" >2</text>
<line x1="310.60" y1="543.85" x2="313.60" y2="543.85" stroke="#222" stroke-width="1.15" />
<text x="294.20" y="546.85" font-size="9.9" text-anchor="start" font-weight="normal" fill="#2a2a2a" stroke="#2a2a2a" stroke-width="0.18" textLength="8.20" lengthAdjust="spacingAndGlyphs" >10</text>
<text x="303.20" y="543.45" font-size="7.0" text-anchor="start" font-weight="normal" fill="#2a2a2a" stroke="#2a2a2a" stroke-width="0.18" textLength="3.50" lengthAdjust="spacingAndGlyphs" >3</text>
<line x1="339.70" y1="639.00" x2="339.70" y2="642.00" stroke="#222" stroke-width="1.15" />
<text x="339.70" y="653.20" font-size="9.4" text-anchor="middle" font-weight="normal" fill="#222" stroke="#222" stroke-width="0.18" textLength="28.50" lengthAdjust="spacingAndGlyphs" >Con-ibr</text>
<line x1="383.20" y1="639.00" x2="383.20" y2="642.00" stroke="#222" stroke-width="1.15" />
<text x="383.20" y="653.20" font-size="9.4" text-anchor="middle" font-weight="normal" fill="#222" stroke="#222" stroke-width="0.18" textLength="24.30" lengthAdjust="spacingAndGlyphs" >No-ibr</text>
<text x="288.10" y="581.50" font-size="10.1" text-anchor="middle" font-weight="normal" fill="#1a1a1a" stroke="#1a1a1a" stroke-width="0.18" textLength="87.00" lengthAdjust="spacingAndGlyphs" transform="rotate(-90 288.10 581.50)" >CD4+ CAR T cell peak/μL</text>
<line x1="415.10" y1="524.20" x2="415.10" y2="639.00" stroke="#000" stroke-width="1.1" />
<line x1="414.60" y1="639.00" x2="511.00" y2="639.00" stroke="#000" stroke-width="1.1" />
<line x1="440.90" y1="639.00" x2="440.90" y2="642.00" stroke="#222" stroke-width="1.15" />
<text x="440.90" y="653.20" font-size="9.4" text-anchor="middle" font-weight="normal" fill="#222" stroke="#222" stroke-width="0.18" textLength="28.50" lengthAdjust="spacingAndGlyphs" >Con-ibr</text>
<line x1="484.90" y1="639.00" x2="484.90" y2="642.00" stroke="#222" stroke-width="1.15" />
<text x="484.90" y="653.20" font-size="9.4" text-anchor="middle" font-weight="normal" fill="#222" stroke="#222" stroke-width="0.18" textLength="24.30" lengthAdjust="spacingAndGlyphs" >No-ibr</text>
<text x="361.00" y="533.70" font-size="8.3" text-anchor="middle" font-weight="normal" fill="#222" stroke="#222" stroke-width="0.18" textLength="25.10" lengthAdjust="spacingAndGlyphs" >p=0.56</text>
<text x="463.20" y="533.70" font-size="8.3" text-anchor="middle" font-weight="normal" fill="#222" stroke="#222" stroke-width="0.18" textLength="29.30" lengthAdjust="spacingAndGlyphs" >p=0.051</text>
<line x1="339.65" y1="583.00" x2="339.65" y2="583.00" stroke="#d44a4e" stroke-width="1.1" />
<line x1="339.65" y1="604.90" x2="339.65" y2="634.10" stroke="#d44a4e" stroke-width="1.1" />
<rect x="323.20" y="583.00" width="32.90" height="21.90" fill="none" stroke="#d44a4e" stroke-width="1.1" />
<line x1="323.20" y1="583.00" x2="356.10" y2="583.00" stroke="#d44a4e" stroke-width="1.265" />
<line x1="367.10" y1="616.40" x2="399.90" y2="616.40" stroke="#3a3490" stroke-width="1.6" />
<line x1="441.10" y1="558.90" x2="441.10" y2="567.10" stroke="#d44a4e" stroke-width="1.1" />
<line x1="441.10" y1="582.10" x2="441.10" y2="584.30" stroke="#d44a4e" stroke-width="1.1" />
<rect x="424.40" y="567.10" width="33.40" height="15.00" fill="none" stroke="#d44a4e" stroke-width="1.1" />
<line x1="424.40" y1="574.40" x2="457.80" y2="574.40" stroke="#d44a4e" stroke-width="1.265" />
<line x1="485.05" y1="569.30" x2="485.05" y2="576.20" stroke="#3a3490" stroke-width="1.1" />
<line x1="485.05" y1="595.20" x2="485.05" y2="617.70" stroke="#3a3490" stroke-width="1.1" />
<rect x="468.60" y="576.20" width="32.90" height="19.00" fill="none" stroke="#3a3490" stroke-width="1.1" />
<line x1="468.60" y1="587.50" x2="501.50" y2="587.50" stroke="#3a3490" stroke-width="1.265" />
<circle cx="97.80" cy="307.40" r="1.7" fill="rgba(225,110,110,0.45)" stroke="rgba(214,70,75,0.9)" stroke-width="0.9"/>
<circle cx="106.70" cy="313.70" r="1.7" fill="rgba(225,110,110,0.45)" stroke="rgba(214,70,75,0.9)" stroke-width="0.9"/>
<circle cx="87.80" cy="324.70" r="1.7" fill="rgba(225,110,110,0.45)" stroke="rgba(214,70,75,0.9)" stroke-width="0.9"/>
<circle cx="103.30" cy="324.70" r="1.7" fill="rgba(225,110,110,0.45)" stroke="rgba(214,70,75,0.9)" stroke-width="0.9"/>
<circle cx="117.40" cy="327.90" r="1.7" fill="rgba(225,110,110,0.45)" stroke="rgba(214,70,75,0.9)" stroke-width="0.9"/>
<circle cx="94.60" cy="331.10" r="1.7" fill="rgba(225,110,110,0.45)" stroke="rgba(214,70,75,0.9)" stroke-width="0.9"/>
<circle cx="89.30" cy="336.00" r="1.7" fill="rgba(225,110,110,0.45)" stroke="rgba(214,70,75,0.9)" stroke-width="0.9"/>
<circle cx="103.70" cy="339.30" r="1.7" fill="rgba(225,110,110,0.45)" stroke="rgba(214,70,75,0.9)" stroke-width="0.9"/>
<circle cx="124.80" cy="337.60" r="1.7" fill="rgba(225,110,110,0.45)" stroke="rgba(214,70,75,0.9)" stroke-width="0.9"/>
<circle cx="107.70" cy="348.00" r="1.7" fill="rgba(225,110,110,0.45)" stroke="rgba(214,70,75,0.9)" stroke-width="0.9"/>
<circle cx="114.30" cy="350.80" r="1.7" fill="rgba(225,110,110,0.45)" stroke="rgba(214,70,75,0.9)" stroke-width="0.9"/>
<circle cx="109.00" cy="374.40" r="1.7" fill="rgba(225,110,110,0.45)" stroke="rgba(214,70,75,0.9)" stroke-width="0.9"/>
<circle cx="110.90" cy="379.90" r="1.7" fill="rgba(225,110,110,0.45)" stroke="rgba(214,70,75,0.9)" stroke-width="0.9"/>
<circle cx="115.30" cy="379.90" r="1.7" fill="rgba(225,110,110,0.45)" stroke="rgba(214,70,75,0.9)" stroke-width="0.9"/>
<circle cx="110.00" cy="392.60" r="1.7" fill="rgba(225,110,110,0.45)" stroke="rgba(214,70,75,0.9)" stroke-width="0.9"/>
<circle cx="118.50" cy="397.90" r="1.7" fill="rgba(225,110,110,0.45)" stroke="rgba(214,70,75,0.9)" stroke-width="0.9"/>
<circle cx="106.40" cy="400.40" r="1.7" fill="rgba(225,110,110,0.45)" stroke="rgba(214,70,75,0.9)" stroke-width="0.9"/>
<circle cx="98.00" cy="428.60" r="1.7" fill="rgba(225,110,110,0.45)" stroke="rgba(214,70,75,0.9)" stroke-width="0.9"/>
<circle cx="186.50" cy="318.90" r="1.7" fill="rgba(95,85,175,0.45)" stroke="rgba(60,50,150,0.9)" stroke-width="0.9"/>
<circle cx="193.20" cy="323.10" r="1.7" fill="rgba(95,85,175,0.45)" stroke="rgba(60,50,150,0.9)" stroke-width="0.9"/>
<circle cx="204.00" cy="317.80" r="1.7" fill="rgba(95,85,175,0.45)" stroke="rgba(60,50,150,0.9)" stroke-width="0.9"/>
<circle cx="203.60" cy="319.90" r="1.7" fill="rgba(95,85,175,0.45)" stroke="rgba(60,50,150,0.9)" stroke-width="0.9"/>
<circle cx="187.50" cy="346.00" r="1.7" fill="rgba(95,85,175,0.45)" stroke="rgba(60,50,150,0.9)" stroke-width="0.9"/>
<circle cx="208.00" cy="358.30" r="1.7" fill="rgba(95,85,175,0.45)" stroke="rgba(60,50,150,0.9)" stroke-width="0.9"/>
<circle cx="200.20" cy="366.10" r="1.7" fill="rgba(95,85,175,0.45)" stroke="rgba(60,50,150,0.9)" stroke-width="0.9"/>
<circle cx="216.10" cy="367.60" r="1.7" fill="rgba(95,85,175,0.45)" stroke="rgba(60,50,150,0.9)" stroke-width="0.9"/>
<circle cx="219.90" cy="366.70" r="1.7" fill="rgba(95,85,175,0.45)" stroke="rgba(60,50,150,0.9)" stroke-width="0.9"/>
<circle cx="179.50" cy="372.00" r="1.7" fill="rgba(95,85,175,0.45)" stroke="rgba(60,50,150,0.9)" stroke-width="0.9"/>
<circle cx="189.20" cy="370.10" r="1.7" fill="rgba(95,85,175,0.45)" stroke="rgba(60,50,150,0.9)" stroke-width="0.9"/>
<circle cx="193.20" cy="378.40" r="1.7" fill="rgba(95,85,175,0.45)" stroke="rgba(60,50,150,0.9)" stroke-width="0.9"/>
<circle cx="210.80" cy="383.20" r="1.7" fill="rgba(95,85,175,0.45)" stroke="rgba(60,50,150,0.9)" stroke-width="0.9"/>
<circle cx="176.90" cy="385.30" r="1.7" fill="rgba(95,85,175,0.45)" stroke="rgba(60,50,150,0.9)" stroke-width="0.9"/>
<circle cx="202.30" cy="391.90" r="1.7" fill="rgba(95,85,175,0.45)" stroke="rgba(60,50,150,0.9)" stroke-width="0.9"/>
<circle cx="176.90" cy="401.00" r="1.7" fill="rgba(95,85,175,0.45)" stroke="rgba(60,50,150,0.9)" stroke-width="0.9"/>
<circle cx="176.90" cy="416.50" r="1.7" fill="rgba(95,85,175,0.45)" stroke="rgba(60,50,150,0.9)" stroke-width="0.9"/>
<circle cx="203.80" cy="442.90" r="1.7" fill="rgba(95,85,175,0.45)" stroke="rgba(60,50,150,0.9)" stroke-width="0.9"/>
<circle cx="380.30" cy="307.30" r="1.7" fill="rgba(225,110,110,0.45)" stroke="rgba(214,70,75,0.9)" stroke-width="0.9"/>
<circle cx="354.20" cy="314.10" r="1.7" fill="rgba(225,110,110,0.45)" stroke="rgba(214,70,75,0.9)" stroke-width="0.9"/>
<circle cx="355.60" cy="332.90" r="1.7" fill="rgba(225,110,110,0.45)" stroke="rgba(214,70,75,0.9)" stroke-width="0.9"/>
<circle cx="369.90" cy="333.30" r="1.7" fill="rgba(225,110,110,0.45)" stroke="rgba(214,70,75,0.9)" stroke-width="0.9"/>
<circle cx="370.30" cy="346.00" r="1.7" fill="rgba(225,110,110,0.45)" stroke="rgba(214,70,75,0.9)" stroke-width="0.9"/>
<circle cx="371.90" cy="344.90" r="1.7" fill="rgba(225,110,110,0.45)" stroke="rgba(214,70,75,0.9)" stroke-width="0.9"/>
<circle cx="361.00" cy="349.60" r="1.7" fill="rgba(225,110,110,0.45)" stroke="rgba(214,70,75,0.9)" stroke-width="0.9"/>
<circle cx="349.30" cy="356.40" r="1.7" fill="rgba(225,110,110,0.45)" stroke="rgba(214,70,75,0.9)" stroke-width="0.9"/>
<circle cx="361.50" cy="359.80" r="1.7" fill="rgba(225,110,110,0.45)" stroke="rgba(214,70,75,0.9)" stroke-width="0.9"/>
<circle cx="372.60" cy="361.20" r="1.7" fill="rgba(225,110,110,0.45)" stroke="rgba(214,70,75,0.9)" stroke-width="0.9"/>
<circle cx="366.30" cy="366.60" r="1.7" fill="rgba(225,110,110,0.45)" stroke="rgba(214,70,75,0.9)" stroke-width="0.9"/>
<circle cx="364.90" cy="368.70" r="1.7" fill="rgba(225,110,110,0.45)" stroke="rgba(214,70,75,0.9)" stroke-width="0.9"/>
<circle cx="360.60" cy="370.70" r="1.7" fill="rgba(225,110,110,0.45)" stroke="rgba(214,70,75,0.9)" stroke-width="0.9"/>
<circle cx="377.40" cy="368.00" r="1.7" fill="rgba(225,110,110,0.45)" stroke="rgba(214,70,75,0.9)" stroke-width="0.9"/>
<circle cx="363.80" cy="399.70" r="1.7" fill="rgba(225,110,110,0.45)" stroke="rgba(214,70,75,0.9)" stroke-width="0.9"/>
<circle cx="384.40" cy="401.10" r="1.7" fill="rgba(225,110,110,0.45)" stroke="rgba(214,70,75,0.9)" stroke-width="0.9"/>
<circle cx="376.70" cy="408.80" r="1.7" fill="rgba(225,110,110,0.45)" stroke="rgba(214,70,75,0.9)" stroke-width="0.9"/>
<circle cx="381.40" cy="442.80" r="1.7" fill="rgba(225,110,110,0.45)" stroke="rgba(214,70,75,0.9)" stroke-width="0.9"/>
<circle cx="437.90" cy="347.20" r="1.7" fill="rgba(95,85,175,0.45)" stroke="rgba(60,50,150,0.9)" stroke-width="0.9"/>
<circle cx="438.40" cy="349.90" r="1.7" fill="rgba(95,85,175,0.45)" stroke="rgba(60,50,150,0.9)" stroke-width="0.9"/>
<circle cx="459.50" cy="344.70" r="1.7" fill="rgba(95,85,175,0.45)" stroke="rgba(60,50,150,0.9)" stroke-width="0.9"/>
<circle cx="465.30" cy="359.40" r="1.7" fill="rgba(95,85,175,0.45)" stroke="rgba(60,50,150,0.9)" stroke-width="0.9"/>
<circle cx="474.30" cy="356.20" r="1.7" fill="rgba(95,85,175,0.45)" stroke="rgba(60,50,150,0.9)" stroke-width="0.9"/>
<circle cx="439.20" cy="365.50" r="1.7" fill="rgba(95,85,175,0.45)" stroke="rgba(60,50,150,0.9)" stroke-width="0.9"/>
<circle cx="443.30" cy="370.70" r="1.7" fill="rgba(95,85,175,0.45)" stroke="rgba(60,50,150,0.9)" stroke-width="0.9"/>
<circle cx="449.70" cy="373.80" r="1.7" fill="rgba(95,85,175,0.45)" stroke="rgba(60,50,150,0.9)" stroke-width="0.9"/>
<circle cx="452.40" cy="375.80" r="1.7" fill="rgba(95,85,175,0.45)" stroke="rgba(60,50,150,0.9)" stroke-width="0.9"/>
<circle cx="479.10" cy="378.20" r="1.7" fill="rgba(95,85,175,0.45)" stroke="rgba(60,50,150,0.9)" stroke-width="0.9"/>
<circle cx="461.10" cy="382.30" r="1.7" fill="rgba(95,85,175,0.45)" stroke="rgba(60,50,150,0.9)" stroke-width="0.9"/>
<circle cx="462.60" cy="387.50" r="1.7" fill="rgba(95,85,175,0.45)" stroke="rgba(60,50,150,0.9)" stroke-width="0.9"/>
<circle cx="473.00" cy="386.40" r="1.7" fill="rgba(95,85,175,0.45)" stroke="rgba(60,50,150,0.9)" stroke-width="0.9"/>
<circle cx="439.20" cy="397.20" r="1.7" fill="rgba(95,85,175,0.45)" stroke="rgba(60,50,150,0.9)" stroke-width="0.9"/>
<circle cx="440.30" cy="410.10" r="1.7" fill="rgba(95,85,175,0.45)" stroke="rgba(60,50,150,0.9)" stroke-width="0.9"/>
<circle cx="442.00" cy="418.80" r="1.7" fill="rgba(95,85,175,0.45)" stroke="rgba(60,50,150,0.9)" stroke-width="0.9"/>
<circle cx="469.30" cy="412.50" r="1.7" fill="rgba(95,85,175,0.45)" stroke="rgba(60,50,150,0.9)" stroke-width="0.9"/>
<circle cx="471.10" cy="417.10" r="1.7" fill="rgba(95,85,175,0.45)" stroke="rgba(60,50,150,0.9)" stroke-width="0.9"/>
<circle cx="82.80" cy="562.80" r="2.0" fill="rgba(225,110,110,0.45)" stroke="rgba(214,70,75,0.9)" stroke-width="0.9"/>
<circle cx="81.10" cy="574.00" r="2.0" fill="rgba(225,110,110,0.45)" stroke="rgba(214,70,75,0.9)" stroke-width="0.9"/>
<circle cx="76.40" cy="596.60" r="2.0" fill="rgba(225,110,110,0.45)" stroke="rgba(214,70,75,0.9)" stroke-width="0.9"/>
<circle cx="83.00" cy="596.60" r="2.0" fill="rgba(225,110,110,0.45)" stroke="rgba(214,70,75,0.9)" stroke-width="0.9"/>
<circle cx="76.90" cy="634.20" r="2.0" fill="rgba(225,110,110,0.45)" stroke="rgba(214,70,75,0.9)" stroke-width="0.9"/>
<circle cx="133.20" cy="624.60" r="2.0" fill="rgba(95,85,175,0.45)" stroke="rgba(60,50,150,0.9)" stroke-width="0.9"/>
<circle cx="186.70" cy="540.60" r="2.0" fill="rgba(225,110,110,0.45)" stroke="rgba(214,70,75,0.9)" stroke-width="0.9"/>
<circle cx="171.30" cy="545.50" r="2.0" fill="rgba(225,110,110,0.45)" stroke="rgba(214,70,75,0.9)" stroke-width="0.9"/>
<circle cx="174.10" cy="553.70" r="2.0" fill="rgba(225,110,110,0.45)" stroke="rgba(214,70,75,0.9)" stroke-width="0.9"/>
<circle cx="188.10" cy="553.70" r="2.0" fill="rgba(225,110,110,0.45)" stroke="rgba(214,70,75,0.9)" stroke-width="0.9"/>
<circle cx="172.60" cy="556.90" r="2.0" fill="rgba(225,110,110,0.45)" stroke="rgba(214,70,75,0.9)" stroke-width="0.9"/>
<circle cx="175.90" cy="558.90" r="2.0" fill="rgba(225,110,110,0.45)" stroke="rgba(214,70,75,0.9)" stroke-width="0.9"/>
<circle cx="184.90" cy="564.00" r="2.0" fill="rgba(225,110,110,0.45)" stroke="rgba(214,70,75,0.9)" stroke-width="0.9"/>
<circle cx="189.10" cy="565.60" r="2.0" fill="rgba(225,110,110,0.45)" stroke="rgba(214,70,75,0.9)" stroke-width="0.9"/>
<circle cx="188.50" cy="572.00" r="2.0" fill="rgba(225,110,110,0.45)" stroke="rgba(214,70,75,0.9)" stroke-width="0.9"/>
<circle cx="183.60" cy="592.50" r="2.0" fill="rgba(225,110,110,0.45)" stroke="rgba(214,70,75,0.9)" stroke-width="0.9"/>
<circle cx="179.00" cy="606.40" r="2.0" fill="rgba(225,110,110,0.45)" stroke="rgba(214,70,75,0.9)" stroke-width="0.9"/>
<circle cx="190.90" cy="610.40" r="2.0" fill="rgba(225,110,110,0.45)" stroke="rgba(214,70,75,0.9)" stroke-width="0.9"/>
<circle cx="181.20" cy="612.60" r="2.0" fill="rgba(225,110,110,0.45)" stroke="rgba(214,70,75,0.9)" stroke-width="0.9"/>
<circle cx="221.00" cy="549.20" r="2.0" fill="rgba(95,85,175,0.45)" stroke="rgba(60,50,150,0.9)" stroke-width="0.9"/>
<circle cx="226.50" cy="548.80" r="2.0" fill="rgba(95,85,175,0.45)" stroke="rgba(60,50,150,0.9)" stroke-width="0.9"/>
<circle cx="224.30" cy="552.80" r="2.0" fill="rgba(95,85,175,0.45)" stroke="rgba(60,50,150,0.9)" stroke-width="0.9"/>
<circle cx="218.80" cy="570.20" r="2.0" fill="rgba(95,85,175,0.45)" stroke="rgba(60,50,150,0.9)" stroke-width="0.9"/>
<circle cx="230.50" cy="579.70" r="2.0" fill="rgba(95,85,175,0.45)" stroke="rgba(60,50,150,0.9)" stroke-width="0.9"/>
<circle cx="220.70" cy="586.30" r="2.0" fill="rgba(95,85,175,0.45)" stroke="rgba(60,50,150,0.9)" stroke-width="0.9"/>
<circle cx="221.60" cy="590.70" r="2.0" fill="rgba(95,85,175,0.45)" stroke="rgba(60,50,150,0.9)" stroke-width="0.9"/>
<circle cx="231.10" cy="588.80" r="2.0" fill="rgba(95,85,175,0.45)" stroke="rgba(60,50,150,0.9)" stroke-width="0.9"/>
<circle cx="234.70" cy="587.50" r="2.0" fill="rgba(95,85,175,0.45)" stroke="rgba(60,50,150,0.9)" stroke-width="0.9"/>
<circle cx="237.80" cy="585.70" r="2.0" fill="rgba(95,85,175,0.45)" stroke="rgba(60,50,150,0.9)" stroke-width="0.9"/>
<circle cx="229.20" cy="595.40" r="2.0" fill="rgba(95,85,175,0.45)" stroke="rgba(60,50,150,0.9)" stroke-width="0.9"/>
<circle cx="216.50" cy="599.10" r="2.0" fill="rgba(95,85,175,0.45)" stroke="rgba(60,50,150,0.9)" stroke-width="0.9"/>
<circle cx="221.90" cy="600.30" r="2.0" fill="rgba(95,85,175,0.45)" stroke="rgba(60,50,150,0.9)" stroke-width="0.9"/>
<circle cx="219.20" cy="605.80" r="2.0" fill="rgba(95,85,175,0.45)" stroke="rgba(60,50,150,0.9)" stroke-width="0.9"/>
<circle cx="222.30" cy="612.80" r="2.0" fill="rgba(95,85,175,0.45)" stroke="rgba(60,50,150,0.9)" stroke-width="0.9"/>
<circle cx="341.10" cy="545.90" r="2.0" fill="rgba(225,110,110,0.45)" stroke="rgba(214,70,75,0.9)" stroke-width="0.9"/>
<circle cx="336.90" cy="583.00" r="2.0" fill="rgba(225,110,110,0.45)" stroke="rgba(214,70,75,0.9)" stroke-width="0.9"/>
<circle cx="350.60" cy="583.50" r="2.0" fill="rgba(225,110,110,0.45)" stroke="rgba(214,70,75,0.9)" stroke-width="0.9"/>
<circle cx="331.40" cy="605.30" r="2.0" fill="rgba(225,110,110,0.45)" stroke="rgba(214,70,75,0.9)" stroke-width="0.9"/>
<circle cx="331.40" cy="634.10" r="2.0" fill="rgba(225,110,110,0.45)" stroke="rgba(214,70,75,0.9)" stroke-width="0.9"/>
<circle cx="392.80" cy="616.40" r="2.0" fill="rgba(95,85,175,0.45)" stroke="rgba(60,50,150,0.9)" stroke-width="0.9"/>
<circle cx="448.10" cy="541.30" r="2.0" fill="rgba(225,110,110,0.45)" stroke="rgba(214,70,75,0.9)" stroke-width="0.9"/>
<circle cx="436.60" cy="558.90" r="2.0" fill="rgba(225,110,110,0.45)" stroke="rgba(214,70,75,0.9)" stroke-width="0.9"/>
<circle cx="445.00" cy="558.90" r="2.0" fill="rgba(225,110,110,0.45)" stroke="rgba(214,70,75,0.9)" stroke-width="0.9"/>
<circle cx="430.40" cy="567.10" r="2.0" fill="rgba(225,110,110,0.45)" stroke="rgba(214,70,75,0.9)" stroke-width="0.9"/>
<circle cx="431.70" cy="568.00" r="2.0" fill="rgba(225,110,110,0.45)" stroke="rgba(214,70,75,0.9)" stroke-width="0.9"/>
<circle cx="441.40" cy="570.20" r="2.0" fill="rgba(225,110,110,0.45)" stroke="rgba(214,70,75,0.9)" stroke-width="0.9"/>
<circle cx="449.60" cy="574.80" r="2.0" fill="rgba(225,110,110,0.45)" stroke="rgba(214,70,75,0.9)" stroke-width="0.9"/>
<circle cx="430.40" cy="577.50" r="2.0" fill="rgba(225,110,110,0.45)" stroke="rgba(214,70,75,0.9)" stroke-width="0.9"/>
<circle cx="442.70" cy="578.40" r="2.0" fill="rgba(225,110,110,0.45)" stroke="rgba(214,70,75,0.9)" stroke-width="0.9"/>
<circle cx="434.10" cy="582.10" r="2.0" fill="rgba(225,110,110,0.45)" stroke="rgba(214,70,75,0.9)" stroke-width="0.9"/>
<circle cx="448.70" cy="584.40" r="2.0" fill="rgba(225,110,110,0.45)" stroke="rgba(214,70,75,0.9)" stroke-width="0.9"/>
<circle cx="445.00" cy="604.50" r="2.0" fill="rgba(225,110,110,0.45)" stroke="rgba(214,70,75,0.9)" stroke-width="0.9"/>
<circle cx="450.00" cy="610.70" r="2.0" fill="rgba(225,110,110,0.45)" stroke="rgba(214,70,75,0.9)" stroke-width="0.9"/>
<circle cx="474.30" cy="567.10" r="2.0" fill="rgba(95,85,175,0.45)" stroke="rgba(60,50,150,0.9)" stroke-width="0.9"/>
<circle cx="483.40" cy="568.40" r="2.0" fill="rgba(95,85,175,0.45)" stroke="rgba(60,50,150,0.9)" stroke-width="0.9"/>
<circle cx="489.60" cy="570.20" r="2.0" fill="rgba(95,85,175,0.45)" stroke="rgba(60,50,150,0.9)" stroke-width="0.9"/>
<circle cx="486.50" cy="574.80" r="2.0" fill="rgba(95,85,175,0.45)" stroke="rgba(60,50,150,0.9)" stroke-width="0.9"/>
<circle cx="495.60" cy="577.00" r="2.0" fill="rgba(95,85,175,0.45)" stroke="rgba(60,50,150,0.9)" stroke-width="0.9"/>
<circle cx="492.50" cy="581.20" r="2.0" fill="rgba(95,85,175,0.45)" stroke="rgba(60,50,150,0.9)" stroke-width="0.9"/>
<circle cx="477.70" cy="584.40" r="2.0" fill="rgba(95,85,175,0.45)" stroke="rgba(60,50,150,0.9)" stroke-width="0.9"/>
<circle cx="479.20" cy="589.40" r="2.0" fill="rgba(95,85,175,0.45)" stroke="rgba(60,50,150,0.9)" stroke-width="0.9"/>
<circle cx="491.40" cy="588.50" r="2.0" fill="rgba(95,85,175,0.45)" stroke="rgba(60,50,150,0.9)" stroke-width="0.9"/>
<circle cx="496.00" cy="587.00" r="2.0" fill="rgba(95,85,175,0.45)" stroke="rgba(60,50,150,0.9)" stroke-width="0.9"/>
<circle cx="475.50" cy="592.70" r="2.0" fill="rgba(95,85,175,0.45)" stroke="rgba(60,50,150,0.9)" stroke-width="0.9"/>
<circle cx="480.10" cy="595.40" r="2.0" fill="rgba(95,85,175,0.45)" stroke="rgba(60,50,150,0.9)" stroke-width="0.9"/>
<circle cx="488.30" cy="596.10" r="2.0" fill="rgba(95,85,175,0.45)" stroke="rgba(60,50,150,0.9)" stroke-width="0.9"/>
<circle cx="493.40" cy="602.70" r="2.0" fill="rgba(95,85,175,0.45)" stroke="rgba(60,50,150,0.9)" stroke-width="0.9"/>
<circle cx="492.00" cy="611.70" r="2.0" fill="rgba(95,85,175,0.45)" stroke="rgba(60,50,150,0.9)" stroke-width="0.9"/>
<circle cx="485.00" cy="617.70" r="2.0" fill="rgba(95,85,175,0.45)" stroke="rgba(60,50,150,0.9)" stroke-width="0.9"/>
</svg></body></html>
